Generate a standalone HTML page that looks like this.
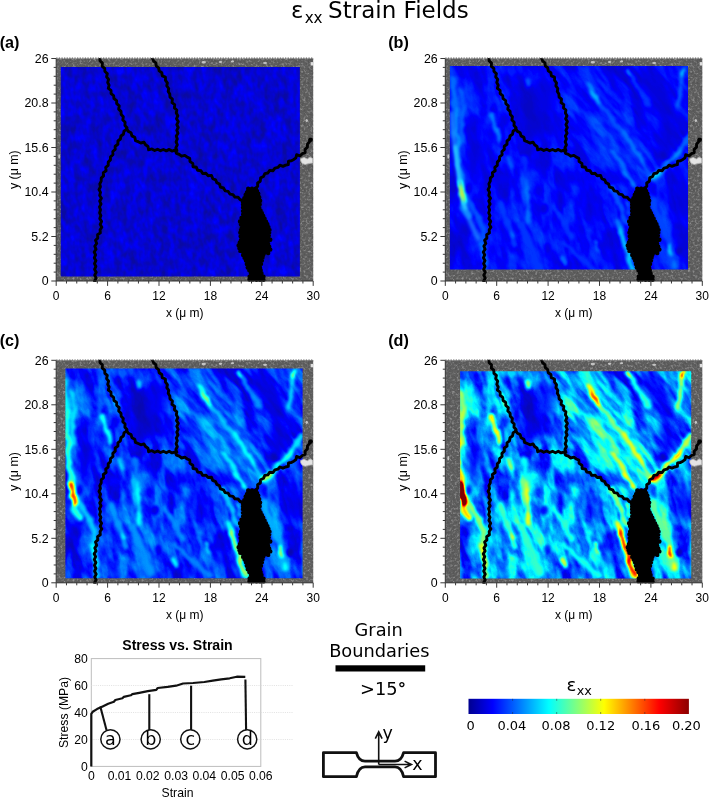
<!DOCTYPE html>
<html lang="en"><head><meta charset="utf-8"><title>Strain Fields</title>
<style>html,body{margin:0;padding:0;background:#fff}svg{display:block}.ax{font-family:"Liberation Sans",Arial,Helvetica,sans-serif;fill:#000}.dj{font-family:"DejaVu Sans","Liberation Sans",sans-serif;fill:#000}</style></head><body>
<svg width="709" height="799" viewBox="0 0 709 799">
<defs>
<filter id="sem" x="0" y="0" width="100%" height="100%" color-interpolation-filters="sRGB"><feTurbulence type="fractalNoise" baseFrequency="0.42" numOctaves="2" seed="7" result="t"/><feColorMatrix in="t" type="matrix" values="0 0 0 0 1  0 0 0 0 1  0 0 0 0 1  3 0 0 0 -1.5"/></filter>
<filter id="sem2" x="0" y="0" width="100%" height="100%" color-interpolation-filters="sRGB"><feTurbulence type="fractalNoise" baseFrequency="0.5" numOctaves="1" seed="23" result="t"/><feColorMatrix in="t" type="matrix" values="0 0 0 0 0  0 0 0 0 0  0 0 0 0 0  0 2.2 0 0 -0.95"/></filter>
<filter id="nz" x="0" y="0" width="100%" height="100%" color-interpolation-filters="sRGB"><feTurbulence type="fractalNoise" baseFrequency="0.09 0.036" numOctaves="2" seed="11" result="t"/><feColorMatrix in="t" type="matrix" values="3.6 0 0 0 -1.3  3.6 0 0 0 -1.3  3.6 0 0 0 -1.3  0 0 0 0 1"/></filter>
<filter id="nzL" x="0" y="0" width="100%" height="100%" color-interpolation-filters="sRGB"><feTurbulence type="fractalNoise" baseFrequency="0.034 0.009" numOctaves="2" seed="4" result="t"/><feColorMatrix in="t" type="matrix" values="3.2 0 0 0 -1.1  3.2 0 0 0 -1.1  3.2 0 0 0 -1.1  0 0 0 0 1"/></filter>
<filter id="nz2" x="0" y="0" width="100%" height="100%" color-interpolation-filters="sRGB"><feTurbulence type="fractalNoise" baseFrequency="0.2 0.12" numOctaves="2" seed="3" result="t"/><feColorMatrix in="t" type="matrix" values="2.2 0 0 0 -0.6  2.2 0 0 0 -0.6  2.2 0 0 0 -0.6  0 0 0 0 1"/></filter>
<filter id="bl" x="-20" y="-20" width="300" height="270" filterUnits="userSpaceOnUse" color-interpolation-filters="sRGB"><feGaussianBlur stdDeviation="1.35"/></filter>
<filter id="blw" x="-20" y="-20" width="300" height="270" filterUnits="userSpaceOnUse" color-interpolation-filters="sRGB"><feTurbulence type="fractalNoise" baseFrequency="0.09" numOctaves="2" seed="9" result="t"/><feDisplacementMap in="SourceGraphic" in2="t" scale="7" xChannelSelector="R" yChannelSelector="G" result="d"/><feGaussianBlur in="d" stdDeviation="1.35"/></filter>
<filter id="bl2" x="-20" y="-20" width="300" height="270" filterUnits="userSpaceOnUse" color-interpolation-filters="sRGB"><feGaussianBlur stdDeviation="5"/></filter>
<filter id="jeta" x="-5" y="-5" width="270" height="235" filterUnits="userSpaceOnUse" color-interpolation-filters="sRGB"><feComponentTransfer><feFuncR type="linear" slope="0.24" intercept="0.02"/><feFuncG type="linear" slope="0.24" intercept="0.02"/><feFuncB type="linear" slope="0.24" intercept="0.02"/></feComponentTransfer><feComponentTransfer><feFuncR type="table" tableValues="0.05 0 0 0 0.5 1 1 1 0.5"/><feFuncG type="table" tableValues="0.05 0 0.5 1 1 1 0.5 0 0"/><feFuncB type="table" tableValues="0.55 1 1 1 0.5 0 0 0 0"/></feComponentTransfer></filter>
<filter id="jetb" x="-5" y="-5" width="270" height="235" filterUnits="userSpaceOnUse" color-interpolation-filters="sRGB"><feComponentTransfer><feFuncR type="linear" slope="0.42" intercept="0.06"/><feFuncG type="linear" slope="0.42" intercept="0.06"/><feFuncB type="linear" slope="0.42" intercept="0.06"/></feComponentTransfer><feComponentTransfer><feFuncR type="table" tableValues="0.05 0 0 0 0.5 1 1 1 0.5"/><feFuncG type="table" tableValues="0.05 0 0.5 1 1 1 0.5 0 0"/><feFuncB type="table" tableValues="0.55 1 1 1 0.5 0 0 0 0"/></feComponentTransfer></filter>
<filter id="jetc" x="-5" y="-5" width="270" height="235" filterUnits="userSpaceOnUse" color-interpolation-filters="sRGB"><feComponentTransfer><feFuncR type="linear" slope="0.82" intercept="0.036"/><feFuncG type="linear" slope="0.82" intercept="0.036"/><feFuncB type="linear" slope="0.82" intercept="0.036"/></feComponentTransfer><feComponentTransfer><feFuncR type="table" tableValues="0.05 0 0 0 0.5 1 1 1 0.5"/><feFuncG type="table" tableValues="0.05 0 0.5 1 1 1 0.5 0 0"/><feFuncB type="table" tableValues="0.55 1 1 1 0.5 0 0 0 0"/></feComponentTransfer></filter>
<filter id="jetd" x="-5" y="-5" width="270" height="235" filterUnits="userSpaceOnUse" color-interpolation-filters="sRGB"><feComponentTransfer><feFuncR type="linear" slope="1.36" intercept="0.04"/><feFuncG type="linear" slope="1.36" intercept="0.04"/><feFuncB type="linear" slope="1.36" intercept="0.04"/></feComponentTransfer><feComponentTransfer><feFuncR type="table" tableValues="0.05 0 0 0 0.5 1 1 1 0.5"/><feFuncG type="table" tableValues="0.05 0 0.5 1 1 1 0.5 0 0"/><feFuncB type="table" tableValues="0.55 1 1 1 0.5 0 0 0 0"/></feComponentTransfer></filter>
<filter id="wob" x="-10" y="-10" width="290" height="250" filterUnits="userSpaceOnUse"><feTurbulence type="fractalNoise" baseFrequency="0.13" numOctaves="1" seed="5" result="t"/><feDisplacementMap in="SourceGraphic" in2="t" scale="3.0" xChannelSelector="R" yChannelSelector="G"/></filter>
<clipPath id="cpa"><rect x="4.6" y="8.6" width="239.1" height="209.3"/></clipPath>
<clipPath id="cpb"><rect x="4.6" y="7.5" width="238.1" height="203.6"/></clipPath>
<clipPath id="cpc"><rect x="9.2" y="8.1" width="237.2" height="209.9"/></clipPath>
<clipPath id="cpd"><rect x="14.8" y="10.9" width="231.1" height="207.4"/></clipPath>
<clipPath id="cpp"><rect x="-0.5" y="-0.5" width="259.5" height="224"/></clipPath>
<clipPath id="cpUR"><polygon points="96,-20 104,13 110,21 113,36 121,53 121,92 123,96 132,98 137.5,108 146,114 156,118 166,130 177,137 186,141 195,128 200,128 204,120 213,115 221,108 232,106 238,100 247,97 251,90 258,80 280,80 280,-20"/></clipPath>
<clipPath id="cpNUR"><path clip-rule="evenodd" d="M-20,-20H280V250H-20Z M96,-20 L104,13 L110,21 L113,36 L121,53 L121,92 L123,96 L132,98 L137.5,108 L146,114 L156,118 L166,130 L177,137 L186,141 L195,128 L200,128 L204,120 L213,115 L221,108 L232,106 L238,100 L247,97 L251,90 L258,80 L280,80 L280,-20Z"/></clipPath>
</defs>
<rect width="709" height="799" fill="#fff"/>
<text class="dj" x="291" y="17.6" font-size="23"><tspan>ε</tspan><tspan font-size="15.2" dy="5.2" dx="1.2">xx</tspan><tspan dy="-5.2" dx="-1.8"> Strain Fields</tspan></text>
<g transform="translate(56.2,58.5)">
<rect x="0" y="0" width="257.0" height="222.5" fill="#5f5f5f"/>
<rect x="0" y="0" width="257.0" height="222.5" filter="url(#sem)" opacity="0.33"/>
<rect x="0" y="0" width="257.0" height="222.5" filter="url(#sem2)" opacity="0.15"/>
<g clip-path="url(#cpa)"><g filter="url(#jeta)"><g><rect x="-20" y="-20" width="300" height="270" fill="rgb(10,10,10)"/><g transform="skewX(4)"><rect x="-40" y="-20" width="330" height="270" filter="url(#nz)" opacity="0.2"/><rect x="-40" y="-20" width="330" height="270" filter="url(#nz2)" opacity="0.3"/></g></g></g></g>
<path d="M244.5,100.2 L248,98.9 L251,100.6 L254,98.7 L256.4,100 L256.4,104.5 L252,105 L249,106 L246,104.8 L244.6,102.6 Z" fill="#e4e4e4" stroke="#bdbdbd" stroke-width="0.8" stroke-linejoin="round"/>
<g fill="#dcdcdc" fill-opacity="0.8"><ellipse cx="147.5" cy="3.8" rx="2.2" ry="1.3"/><ellipse cx="164.3" cy="3.5" rx="1.8" ry="1.1"/><ellipse cx="176.2" cy="3" rx="1.6" ry="1"/><ellipse cx="208.8" cy="4.5" rx="2" ry="1.1"/><rect x="254.4" y="3.6" width="2.6" height="3.4" fill="#fff"/><ellipse cx="250.5" cy="62" rx="1.2" ry="1.6"/><ellipse cx="3" cy="98" rx="1" ry="2.2"/></g>
<g clip-path="url(#cpp)"><g><g fill="none" stroke="#000" stroke-width="2.9" stroke-linecap="round" stroke-linejoin="round"><path d="M43.4,-0.5 L43.9,2.4 L46.2,4.6 L46.0,7.9 L48.5,9.9 L48.7,13.0 L51.1,15.1 L50.4,18.3 L52.4,20.9 L51.5,24.0 L52.9,26.7 L52.1,29.9 L54.8,31.9 L54.9,35.1 L57.4,37.1 L57.8,40.2 L60.4,42.1 L60.5,45.2 L63.0,47.3 L62.5,50.7 L64.8,52.9 L65.0,55.9 L67.1,58.2 L66.6,61.5 L68.9,63.7 L68.7,66.9 L70.8,69.2 L70.5,70.5"/><path d="M70.5,71.0 L67.8,72.5 L67.2,75.7 L64.7,77.5 L64.2,80.5 L61.7,82.5 L61.7,85.8 L59.0,87.7 L59.0,90.9 L56.6,93.0 L56.8,96.2 L54.3,98.3 L54.2,101.4 L52.0,103.6 L52.0,106.8 L49.5,108.9 L49.9,112.2 L47.1,114.2 L47.4,117.4 L45.0,119.6 L45.0,122.6 L43.6,125.3 L44.2,128.3 L42.8,131.1 L44.3,133.9 L43.5,136.9 L45.2,139.7 L43.5,142.6 L44.8,145.6 L43.3,148.4 L44.3,151.3 L43.4,154.3 L44.7,157.1 L43.6,160.1 L45.4,162.9 L44.0,165.9 L45.6,168.7 L43.9,171.2 L44.1,174.4 L41.4,176.3 L41.6,179.6 L39.3,181.8 L40.5,185.0 L38.6,187.7 L39.8,190.7 L38.0,193.5 L39.4,196.4 L38.1,199.3 L39.7,202.2 L38.3,205.1 L39.7,208.0 L38.4,210.9 L40.0,213.8 L38.5,216.7 L39.9,219.7 L38.3,222.5 L38.9,223.0"/><path d="M70.5,70.5 L72.1,72.9 L74.9,74.3 L75.7,77.4 L78.6,78.9 L79.3,82.1 L82.0,83.2 L84.6,84.5 L87.8,83.6 L89.3,86.2 L91.8,88.0 L92.4,91.4 L95.7,90.4 L98.5,92.0 L101.4,90.7 L104.3,92.2 L107.2,91.0 L110.1,92.4 L113.0,90.9 L115.8,92.6 L119.1,91.5 L120.2,94.8 L123.0,95.9 L125.4,97.7 L128.6,96.9 L131.0,98.7 L133.5,99.8 L133.8,103.1 L136.6,104.9 L136.8,108.2 L140.2,108.8 L141.5,111.8 L144.8,112.2 L146.5,115.1 L149.7,114.8 L151.9,117.2 L155.3,116.9 L156.5,120.1 L159.4,121.3 L160.6,124.1 L163.3,125.5 L164.2,128.6 L167.3,129.5 L168.9,132.3 L172.0,132.9 L173.7,135.6 L176.8,136.1 L178.7,138.6 L181.9,138.7 L183.9,141.2 L186.0,141.5"/><path d="M96.3,-0.5 L97.2,2.3 L99.6,4.3 L100.0,7.4 L102.4,9.4 L103.0,12.4 L105.6,14.2 L106.1,17.4 L109.2,18.7 L109.3,21.9 L111.2,24.3 L110.6,27.4 L112.5,30.0 L112.0,33.0 L113.6,35.6 L113.8,38.6 L116.2,40.7 L115.8,44.1 L118.5,46.1 L118.2,49.4 L120.6,51.5 L120.1,54.6 L121.6,57.3 L120.3,60.3 L122.1,63.1 L120.6,66.1 L122.0,69.0 L120.6,71.8 L121.8,74.8 L120.1,77.6 L121.1,80.5 L119.9,83.4 L121.1,86.3 L119.7,89.2 L120.6,92.0"/><path d="M199.5,130.0 L201.5,127.7 L201.4,124.5 L204.1,122.7 L204.4,119.4 L207.3,118.0 L208.6,115.1 L211.7,114.5 L213.5,111.9 L216.9,112.2 L218.7,109.6 L221.7,108.9 L223.7,106.7 L226.7,107.9 L229.4,106.7 L232.1,106.1 L232.3,102.6 L235.2,102.2 L237.6,100.9 L239.7,99.3 L240.4,96.2 L243.8,97.3 L246.2,95.2 L248.9,94.2 L248.9,90.9 L251.2,88.7 L251.3,85.6 L253.3,83.3 L253.6,81.6"/></g><path d="M192.0,130.1 L199.6,130.3 L202.1,135.3 L203.9,142.3 L203.1,149.5 L205.7,154.8 L208.4,160.3 L211.2,165.8 L213.3,171.4 L212.6,177.0 L214.1,181.2 L211.9,185.4 L214.1,191.1 L212.0,194.6 L207.0,196.5 L205.7,202.0 L203.8,208.9 L205.3,214.7 L207.3,218.3 L207.3,221.3 L193.3,221.1 L193.4,218.1 L194.7,214.4 L191.5,209.0 L189.7,202.0 L186.9,196.6 L184.1,192.4 L182.4,186.9 L184.8,181.2 L184.1,174.2 L185.6,168.7 L183.8,163.0 L186.9,156.0 L186.8,149.0 L186.7,143.3 L189.4,136.4 L192.0,131.6Z" fill="#000" stroke="#000" stroke-width="1" stroke-linejoin="round"/><path d="M192.0,130.1h0 M195.8,130.2h0 M199.6,130.3h0 M200.9,132.8h0 M202.1,135.3h0 M203.0,138.8h0 M203.9,142.3h0 M203.5,145.9h0 M203.1,149.5h0 M204.4,152.1h0 M205.7,154.8h0 M207.0,157.5h0 M208.4,160.3h0 M209.8,163.1h0 M211.2,165.8h0 M212.3,168.6h0 M213.3,171.4h0 M213.0,174.2h0 M212.6,177.0h0 M214.1,181.2h0 M211.9,185.4h0 M213.0,188.2h0 M214.1,191.1h0 M212.0,194.6h0 M207.0,196.5h0 M206.3,199.2h0 M205.7,202.0h0 M204.8,205.4h0 M203.8,208.9h0 M204.5,211.8h0 M205.3,214.7h0 M207.3,218.3h0 M207.3,221.3h0 M203.8,221.3h0 M200.3,221.2h0 M196.8,221.1h0 M193.3,221.1h0 M193.4,218.1h0 M194.7,214.4h0 M193.1,211.7h0 M191.5,209.0h0 M190.6,205.5h0 M189.7,202.0h0 M188.3,199.3h0 M186.9,196.6h0 M184.1,192.4h0 M183.2,189.7h0 M182.4,186.9h0 M183.6,184.0h0 M184.8,181.2h0 M184.4,177.7h0 M184.1,174.2h0 M184.8,171.4h0 M185.6,168.7h0 M184.7,165.8h0 M183.8,163.0h0 M185.3,159.5h0 M186.9,156.0h0 M186.8,152.5h0 M186.8,149.0h0 M186.8,146.1h0 M186.7,143.3h0 M188.1,139.8h0 M189.4,136.4h0 M190.7,134.0h0 M192.0,131.6h0" stroke="#000" stroke-width="4.4" stroke-linecap="round" fill="none"/><circle cx="254.4" cy="81.3" r="2.3" fill="#000"/></g></g>
<g><path d="M0,222.50h-4.9 M0,213.60h-2.5 M0,204.70h-2.5 M0,195.80h-2.5 M0,186.90h-2.5 M0,178.00h-4.9 M0,169.10h-2.5 M0,160.20h-2.5 M0,151.30h-2.5 M0,142.40h-2.5 M0,133.50h-4.9 M0,124.60h-2.5 M0,115.70h-2.5 M0,106.80h-2.5 M0,97.90h-2.5 M0,89.00h-4.9 M0,80.10h-2.5 M0,71.20h-2.5 M0,62.30h-2.5 M0,53.40h-2.5 M0,44.50h-4.9 M0,35.60h-2.5 M0,26.70h-2.5 M0,17.80h-2.5 M0,8.90h-2.5 M0,0.00h-4.9 M0.00,222.5v4.9 M10.28,222.5v2.5 M20.56,222.5v2.5 M30.84,222.5v2.5 M41.12,222.5v2.5 M51.40,222.5v4.9 M61.68,222.5v2.5 M71.96,222.5v2.5 M82.24,222.5v2.5 M92.52,222.5v2.5 M102.80,222.5v4.9 M113.08,222.5v2.5 M123.36,222.5v2.5 M133.64,222.5v2.5 M143.92,222.5v2.5 M154.20,222.5v4.9 M164.48,222.5v2.5 M174.76,222.5v2.5 M185.04,222.5v2.5 M195.32,222.5v2.5 M205.60,222.5v4.9 M215.88,222.5v2.5 M226.16,222.5v2.5 M236.44,222.5v2.5 M246.72,222.5v2.5 M257.00,222.5v4.9" stroke="#222" stroke-width="0.9" fill="none"/><path d="M0,0V222.5H257.0" stroke="#333" stroke-width="1" fill="none"/><path d="M0,-0.3H257.0" stroke="#666" stroke-width="1.2" stroke-dasharray="1.3 1.3" fill="none"/></g>
<text class="ax" x="-7.6" y="4.3" font-size="12.4" text-anchor="end">26</text>
<text class="ax" x="-7.6" y="48.8" font-size="12.4" text-anchor="end">20.8</text>
<text class="ax" x="-7.6" y="93.3" font-size="12.4" text-anchor="end">15.6</text>
<text class="ax" x="-7.6" y="137.8" font-size="12.4" text-anchor="end">10.4</text>
<text class="ax" x="-7.6" y="182.3" font-size="12.4" text-anchor="end">5.2</text>
<text class="ax" x="-7.6" y="226.8" font-size="12.4" text-anchor="end">0</text>
<text class="ax" x="0.0" y="241.8" font-size="12" text-anchor="middle">0</text>
<text class="ax" x="51.4" y="241.8" font-size="12" text-anchor="middle">6</text>
<text class="ax" x="102.8" y="241.8" font-size="12" text-anchor="middle">12</text>
<text class="ax" x="154.2" y="241.8" font-size="12" text-anchor="middle">18</text>
<text class="ax" x="205.6" y="241.8" font-size="12" text-anchor="middle">24</text>
<text class="ax" x="257.0" y="241.8" font-size="12" text-anchor="middle">30</text>
<text class="ax" x="128.5" y="258.6" font-size="12" text-anchor="middle">x (μ m)</text>
<text class="ax" transform="translate(-38.6,111.2) rotate(-90)" font-size="12.4" text-anchor="middle">y (μ m)</text>
</g>
<text class="ax" x="-0.3" y="48.2" font-size="16.2" font-weight="bold">(a)</text>
<g transform="translate(445.3,58.5)">
<rect x="0" y="0" width="257.0" height="222.5" fill="#5f5f5f"/>
<rect x="0" y="0" width="257.0" height="222.5" filter="url(#sem)" opacity="0.33"/>
<rect x="0" y="0" width="257.0" height="222.5" filter="url(#sem2)" opacity="0.15"/>
<g clip-path="url(#cpb)"><g filter="url(#jetb)"><g><rect x="-20" y="-20" width="300" height="270" fill="rgb(10,10,10)"/><g filter="url(#bl2)"><ellipse cx="26" cy="110" rx="12" ry="105" fill="rgb(17,17,17)" fill-opacity="1.0" transform="rotate(0 26 110)"/><ellipse cx="85" cy="165" rx="30" ry="55" fill="rgb(25,25,25)" fill-opacity="1.0" transform="rotate(-10 85 165)"/><ellipse cx="168" cy="68" rx="24" ry="68" fill="rgb(34,34,34)" fill-opacity="1.0" transform="rotate(-33 168 68)"/><ellipse cx="238" cy="40" rx="8" ry="35" fill="rgb(28,28,28)" fill-opacity="1.0" transform="rotate(0 238 40)"/><ellipse cx="176" cy="170" rx="9" ry="45" fill="rgb(34,34,34)" fill-opacity="1.0" transform="rotate(-15 176 170)"/><ellipse cx="220" cy="175" rx="8" ry="40" fill="rgb(32,32,32)" fill-opacity="1.0" transform="rotate(-15 220 175)"/><ellipse cx="244" cy="190" rx="4" ry="28" fill="rgb(28,28,28)" fill-opacity="1.0" transform="rotate(0 244 190)"/><ellipse cx="226" cy="100" rx="7" ry="32" fill="rgb(34,34,34)" fill-opacity="1.0" transform="rotate(42 226 100)"/><ellipse cx="50" cy="50" rx="12" ry="35" fill="rgb(23,23,23)" fill-opacity="1.0" transform="rotate(-20 50 50)"/><ellipse cx="133" cy="55" rx="10" ry="40" fill="rgb(25,25,25)" fill-opacity="1.0" transform="rotate(-10 133 55)"/><ellipse cx="125" cy="180" rx="18" ry="40" fill="rgb(18,18,18)" fill-opacity="1.0" transform="rotate(-30 125 180)"/></g><g clip-path="url(#cpUR)"><g transform="skewX(31)"><rect x="-160" y="-20" width="440" height="270" filter="url(#nzL)" opacity="0.09"/></g><g transform="skewX(31)"><rect x="-160" y="-20" width="440" height="270" filter="url(#nz)" opacity="0.15"/></g><g transform="skewX(31)"><rect x="-160" y="-20" width="440" height="270" filter="url(#nz2)" opacity="0.05"/></g></g><g clip-path="url(#cpNUR)"><g transform="skewX(13)"><rect x="-160" y="-20" width="440" height="270" filter="url(#nzL)" opacity="0.09"/></g><g transform="skewX(13)"><rect x="-160" y="-20" width="440" height="270" filter="url(#nz)" opacity="0.15"/></g><g transform="skewX(13)"><rect x="-160" y="-20" width="440" height="270" filter="url(#nz2)" opacity="0.05"/></g></g><g filter="url(#bl2)"><ellipse cx="92" cy="52" rx="17" ry="32" fill="#000" fill-opacity="0.62" transform="rotate(22 92 52)"/><ellipse cx="212" cy="35" rx="9" ry="28" fill="#000" fill-opacity="0.75" transform="rotate(-35 212 35)"/><ellipse cx="222" cy="80" rx="8" ry="22" fill="#000" fill-opacity="0.7" transform="rotate(0 222 80)"/><ellipse cx="238" cy="140" rx="7" ry="22" fill="#000" fill-opacity="0.7" transform="rotate(0 238 140)"/><ellipse cx="30" cy="95" rx="7" ry="34" fill="#000" fill-opacity="0.6" transform="rotate(0 30 95)"/><ellipse cx="20" cy="178" rx="6" ry="25" fill="#000" fill-opacity="0.4" transform="rotate(0 20 178)"/><ellipse cx="145" cy="145" rx="6" ry="18" fill="#000" fill-opacity="0.5" transform="rotate(-15 145 145)"/><ellipse cx="164" cy="195" rx="4" ry="14" fill="#000" fill-opacity="0.6" transform="rotate(-10 164 195)"/></g><g filter="url(#bl)"><ellipse cx="99" cy="150" rx="4" ry="5" fill="#000" fill-opacity="0.7" transform="rotate(0 99 150)"/><ellipse cx="60" cy="135" rx="4" ry="5" fill="#000" fill-opacity="0.6" transform="rotate(0 60 135)"/><ellipse cx="102" cy="189" rx="4" ry="5" fill="#000" fill-opacity="0.6" transform="rotate(0 102 189)"/><ellipse cx="234" cy="192" rx="3.5" ry="4.5" fill="#000" fill-opacity="0.95" transform="rotate(20 234 192)"/><ellipse cx="217.5" cy="97" rx="4" ry="4.5" fill="#000" fill-opacity="0.85" transform="rotate(0 217.5 97)"/><ellipse cx="23.5" cy="130" rx="3" ry="5" fill="#000" fill-opacity="0.6" transform="rotate(0 23.5 130)"/></g><g filter="url(#blw)"><path d="M8.0,20.0 L10.0,60.0 L12.5,100.0 L15.0,124.0" stroke="rgb(106,106,106)" stroke-width="6" stroke-opacity="1.0" fill="none" stroke-linecap="round" stroke-linejoin="round"/><path d="M11.5,50.0 L12.5,85.0 L14.5,118.0" stroke="rgb(131,131,131)" stroke-width="3.5" stroke-opacity="1.0" fill="none" stroke-linecap="round" stroke-linejoin="round"/><path d="M16.5,30.0 L17.0,82.0" stroke="rgb(100,100,100)" stroke-width="4" stroke-opacity="1.0" fill="none" stroke-linecap="round" stroke-linejoin="round"/><path d="M14.5,116.0 L16.3,134.0 L19.0,148.0 L23.0,156.0" stroke="rgb(120,120,120)" stroke-width="7" stroke-opacity="1.0" fill="none" stroke-linecap="round" stroke-linejoin="round"/><path d="M45.5,56.5 L54.7,80.4" stroke="rgb(120,120,120)" stroke-width="4.5" stroke-opacity="1.0" fill="none" stroke-linecap="round" stroke-linejoin="round"/><path d="M54.7,30.9 L60.2,43.7" stroke="rgb(91,91,91)" stroke-width="4" stroke-opacity="1.0" fill="none" stroke-linecap="round" stroke-linejoin="round"/><path d="M82.5,22.0 L83.5,25.0" stroke="rgb(100,100,100)" stroke-width="4" stroke-opacity="1.0" fill="none" stroke-linecap="round" stroke-linejoin="round"/><path d="M62.0,98.0 L66.0,108.0" stroke="rgb(100,100,100)" stroke-width="4" stroke-opacity="1.0" fill="none" stroke-linecap="round" stroke-linejoin="round"/><path d="M21.7,139.2 L29.0,150.2 L36.4,166.7 L39.1,185.0 L39.1,207.0 L40.0,218.0" stroke="rgb(91,91,91)" stroke-width="5" stroke-opacity="1.0" fill="none" stroke-linecap="round" stroke-linejoin="round"/><path d="M37.3,185.0 L38.8,207.0" stroke="rgb(120,120,120)" stroke-width="3" stroke-opacity="1.0" fill="none" stroke-linecap="round" stroke-linejoin="round"/><path d="M78.5,121.0 L82.0,142.0 L84.0,163.0" stroke="rgb(87,87,87)" stroke-width="6" stroke-opacity="1.0" fill="none" stroke-linecap="round" stroke-linejoin="round"/><path d="M81.0,124.0 L83.3,142.0" stroke="rgb(113,113,113)" stroke-width="3.5" stroke-opacity="1.0" fill="none" stroke-linecap="round" stroke-linejoin="round"/><path d="M82.3,152.0 L83.8,164.0" stroke="rgb(113,113,113)" stroke-width="3.5" stroke-opacity="1.0" fill="none" stroke-linecap="round" stroke-linejoin="round"/><path d="M55.0,145.0 L70.0,185.0" stroke="rgb(76,76,76)" stroke-width="6" stroke-opacity="1.0" fill="none" stroke-linecap="round" stroke-linejoin="round"/><path d="M67.0,174.0 L68.0,178.0" stroke="rgb(109,109,109)" stroke-width="4" stroke-opacity="1.0" fill="none" stroke-linecap="round" stroke-linejoin="round"/><path d="M76.7,166.7 L95.0,212.5" stroke="rgb(73,73,73)" stroke-width="8" stroke-opacity="1.0" fill="none" stroke-linecap="round" stroke-linejoin="round"/><path d="M118.5,199.0 L119.5,205.0" stroke="rgb(109,109,109)" stroke-width="4" stroke-opacity="1.0" fill="none" stroke-linecap="round" stroke-linejoin="round"/><path d="M108.0,147.0 L127.0,177.5" stroke="rgb(73,73,73)" stroke-width="5" stroke-opacity="1.0" fill="none" stroke-linecap="round" stroke-linejoin="round"/><path d="M119.4,185.0 L153.6,215.6" stroke="rgb(69,69,69)" stroke-width="6" stroke-opacity="1.0" fill="none" stroke-linecap="round" stroke-linejoin="round"/><path d="M77.5,97.5 L84.0,125.0" stroke="rgb(66,66,66)" stroke-width="5" stroke-opacity="1.0" fill="none" stroke-linecap="round" stroke-linejoin="round"/><path d="M142.0,25.7 L154.6,46.7" stroke="rgb(118,118,118)" stroke-width="5" stroke-opacity="1.0" fill="none" stroke-linecap="round" stroke-linejoin="round"/><path d="M146.0,33.0 L153.6,44.0" stroke="rgb(155,155,155)" stroke-width="2.5" stroke-opacity="1.0" fill="none" stroke-linecap="round" stroke-linejoin="round"/><path d="M154.6,46.7 L177.7,74.0 L198.8,105.6 L207.2,122.4" stroke="rgb(91,91,91)" stroke-width="5" stroke-opacity="1.0" fill="none" stroke-linecap="round" stroke-linejoin="round"/><path d="M178.0,72.0 L199.0,104.0" stroke="rgb(113,113,113)" stroke-width="3.5" stroke-opacity="1.0" fill="none" stroke-linecap="round" stroke-linejoin="round"/><path d="M167.2,93.0 L182.0,114.0" stroke="rgb(109,109,109)" stroke-width="4" stroke-opacity="1.0" fill="none" stroke-linecap="round" stroke-linejoin="round"/><path d="M179.0,115.0 L190.0,128.0" stroke="rgb(120,120,120)" stroke-width="4" stroke-opacity="1.0" fill="none" stroke-linecap="round" stroke-linejoin="round"/><path d="M182.0,13.0 L187.2,19.4" stroke="rgb(127,127,127)" stroke-width="3.5" stroke-opacity="1.0" fill="none" stroke-linecap="round" stroke-linejoin="round"/><path d="M187.0,19.0 L203.0,47.0" stroke="rgb(73,73,73)" stroke-width="5" stroke-opacity="1.0" fill="none" stroke-linecap="round" stroke-linejoin="round"/><path d="M237.6,13.1 L236.6,25.7 L232.4,46.7" stroke="rgb(100,100,100)" stroke-width="4.5" stroke-opacity="1.0" fill="none" stroke-linecap="round" stroke-linejoin="round"/><path d="M238.5,10.0 L237.5,17.0" stroke="rgb(168,168,168)" stroke-width="3" stroke-opacity="1.0" fill="none" stroke-linecap="round" stroke-linejoin="round"/><path d="M245.0,76.2 L232.4,95.0 L209.3,120.3" stroke="rgb(100,100,100)" stroke-width="5" stroke-opacity="1.0" fill="none" stroke-linecap="round" stroke-linejoin="round"/><path d="M235.0,92.0 L222.0,106.0" stroke="rgb(131,131,131)" stroke-width="3" stroke-opacity="1.0" fill="none" stroke-linecap="round" stroke-linejoin="round"/><path d="M214.0,114.5 L207.0,121.5" stroke="rgb(173,173,173)" stroke-width="3.5" stroke-opacity="1.0" fill="none" stroke-linecap="round" stroke-linejoin="round"/><path d="M166.4,130.0 L181.0,163.0" stroke="rgb(91,91,91)" stroke-width="6" stroke-opacity="1.0" fill="none" stroke-linecap="round" stroke-linejoin="round"/><path d="M182.9,142.9 L184.7,153.9" stroke="rgb(113,113,113)" stroke-width="3" stroke-opacity="1.0" fill="none" stroke-linecap="round" stroke-linejoin="round"/><path d="M173.7,164.9 L175.5,170.4 L180.1,188.7 L184.7,203.4 L190.2,216.2" stroke="rgb(113,113,113)" stroke-width="6" stroke-opacity="1.0" fill="none" stroke-linecap="round" stroke-linejoin="round"/><path d="M175.5,170.4 L180.1,188.7 L184.7,203.4 L189.5,214.5" stroke="rgb(173,173,173)" stroke-width="2.8" stroke-opacity="1.0" fill="none" stroke-linecap="round" stroke-linejoin="round"/><path d="M208.5,144.7 L225.0,188.7 L228.7,207.0" stroke="rgb(82,82,82)" stroke-width="6" stroke-opacity="1.0" fill="none" stroke-linecap="round" stroke-linejoin="round"/><path d="M224.5,188.0 L225.5,197.0" stroke="rgb(173,173,173)" stroke-width="3.5" stroke-opacity="1.0" fill="none" stroke-linecap="round" stroke-linejoin="round"/><path d="M228.5,205.0 L229.0,209.0" stroke="rgb(113,113,113)" stroke-width="3.5" stroke-opacity="1.0" fill="none" stroke-linecap="round" stroke-linejoin="round"/><path d="M149.9,184.0 L151.0,193.0" stroke="rgb(100,100,100)" stroke-width="3" stroke-opacity="1.0" fill="none" stroke-linecap="round" stroke-linejoin="round"/><path d="M14.6,124.0 L16.3,134.0 L18.0,144.0" stroke="rgb(255,255,255)" stroke-width="5.2" stroke-opacity="1.0" fill="none" stroke-linecap="round" stroke-linejoin="round"/><path d="M15.4,128.0 L16.3,134.0 L17.2,140.0" stroke="rgb(255,255,255)" stroke-width="4" stroke-opacity="1.0" fill="none" stroke-linecap="round" stroke-linejoin="round"/></g></g></g><g filter="url(#bl)" fill="none" stroke-linecap="round" stroke-linejoin="round"><path d="M6.5,55 L9,85 L12.5,110 L15.4,128 L17.6,142 L22,156 L28,170 L33,180" stroke="#1e8cff" stroke-opacity="0.75" stroke-width="4.5"/><path d="M10,88 L12.5,110 L15.4,128 L17.6,142 L20,150" stroke="#30e0ff" stroke-opacity="0.8" stroke-width="3.2"/><path d="M15.2,128 L16.4,134.5 L17.8,141" stroke="#9dff5a" stroke-width="3.4"/><path d="M16,131.5 L17,137.5" stroke="#f2f214" stroke-width="2.4"/></g></g>
<path d="M244.5,100.2 L248,98.9 L251,100.6 L254,98.7 L256.4,100 L256.4,104.5 L252,105 L249,106 L246,104.8 L244.6,102.6 Z" fill="#e4e4e4" stroke="#bdbdbd" stroke-width="0.8" stroke-linejoin="round"/>
<g fill="#dcdcdc" fill-opacity="0.8"><ellipse cx="147.5" cy="3.8" rx="2.2" ry="1.3"/><ellipse cx="164.3" cy="3.5" rx="1.8" ry="1.1"/><ellipse cx="176.2" cy="3" rx="1.6" ry="1"/><ellipse cx="208.8" cy="4.5" rx="2" ry="1.1"/><rect x="254.4" y="3.6" width="2.6" height="3.4" fill="#fff"/><ellipse cx="250.5" cy="62" rx="1.2" ry="1.6"/><ellipse cx="3" cy="98" rx="1" ry="2.2"/></g>
<g clip-path="url(#cpp)"><g><g fill="none" stroke="#000" stroke-width="2.9" stroke-linecap="round" stroke-linejoin="round"><path d="M43.4,-0.5 L43.9,2.4 L46.2,4.6 L46.0,7.9 L48.5,9.9 L48.7,13.0 L51.1,15.1 L50.4,18.3 L52.4,20.9 L51.5,24.0 L52.9,26.7 L52.1,29.9 L54.8,31.9 L54.9,35.1 L57.4,37.1 L57.8,40.2 L60.4,42.1 L60.5,45.2 L63.0,47.3 L62.5,50.7 L64.8,52.9 L65.0,55.9 L67.1,58.2 L66.6,61.5 L68.9,63.7 L68.7,66.9 L70.8,69.2 L70.5,70.5"/><path d="M70.5,71.0 L67.8,72.5 L67.2,75.7 L64.7,77.5 L64.2,80.5 L61.7,82.5 L61.7,85.8 L59.0,87.7 L59.0,90.9 L56.6,93.0 L56.8,96.2 L54.3,98.3 L54.2,101.4 L52.0,103.6 L52.0,106.8 L49.5,108.9 L49.9,112.2 L47.1,114.2 L47.4,117.4 L45.0,119.6 L45.0,122.6 L43.6,125.3 L44.2,128.3 L42.8,131.1 L44.3,133.9 L43.5,136.9 L45.2,139.7 L43.5,142.6 L44.8,145.6 L43.3,148.4 L44.3,151.3 L43.4,154.3 L44.7,157.1 L43.6,160.1 L45.4,162.9 L44.0,165.9 L45.6,168.7 L43.9,171.2 L44.1,174.4 L41.4,176.3 L41.6,179.6 L39.3,181.8 L40.5,185.0 L38.6,187.7 L39.8,190.7 L38.0,193.5 L39.4,196.4 L38.1,199.3 L39.7,202.2 L38.3,205.1 L39.7,208.0 L38.4,210.9 L40.0,213.8 L38.5,216.7 L39.9,219.7 L38.3,222.5 L38.9,223.0"/><path d="M70.5,70.5 L72.1,72.9 L74.9,74.3 L75.7,77.4 L78.6,78.9 L79.3,82.1 L82.0,83.2 L84.6,84.5 L87.8,83.6 L89.3,86.2 L91.8,88.0 L92.4,91.4 L95.7,90.4 L98.5,92.0 L101.4,90.7 L104.3,92.2 L107.2,91.0 L110.1,92.4 L113.0,90.9 L115.8,92.6 L119.1,91.5 L120.2,94.8 L123.0,95.9 L125.4,97.7 L128.6,96.9 L131.0,98.7 L133.5,99.8 L133.8,103.1 L136.6,104.9 L136.8,108.2 L140.2,108.8 L141.5,111.8 L144.8,112.2 L146.5,115.1 L149.7,114.8 L151.9,117.2 L155.3,116.9 L156.5,120.1 L159.4,121.3 L160.6,124.1 L163.3,125.5 L164.2,128.6 L167.3,129.5 L168.9,132.3 L172.0,132.9 L173.7,135.6 L176.8,136.1 L178.7,138.6 L181.9,138.7 L183.9,141.2 L186.0,141.5"/><path d="M96.3,-0.5 L97.2,2.3 L99.6,4.3 L100.0,7.4 L102.4,9.4 L103.0,12.4 L105.6,14.2 L106.1,17.4 L109.2,18.7 L109.3,21.9 L111.2,24.3 L110.6,27.4 L112.5,30.0 L112.0,33.0 L113.6,35.6 L113.8,38.6 L116.2,40.7 L115.8,44.1 L118.5,46.1 L118.2,49.4 L120.6,51.5 L120.1,54.6 L121.6,57.3 L120.3,60.3 L122.1,63.1 L120.6,66.1 L122.0,69.0 L120.6,71.8 L121.8,74.8 L120.1,77.6 L121.1,80.5 L119.9,83.4 L121.1,86.3 L119.7,89.2 L120.6,92.0"/><path d="M199.5,130.0 L201.5,127.7 L201.4,124.5 L204.1,122.7 L204.4,119.4 L207.3,118.0 L208.6,115.1 L211.7,114.5 L213.5,111.9 L216.9,112.2 L218.7,109.6 L221.7,108.9 L223.7,106.7 L226.7,107.9 L229.4,106.7 L232.1,106.1 L232.3,102.6 L235.2,102.2 L237.6,100.9 L239.7,99.3 L240.4,96.2 L243.8,97.3 L246.2,95.2 L248.9,94.2 L248.9,90.9 L251.2,88.7 L251.3,85.6 L253.3,83.3 L253.6,81.6"/></g><path d="M192.0,130.1 L199.6,130.3 L202.1,135.3 L203.9,142.3 L203.1,149.5 L205.7,154.8 L208.4,160.3 L211.2,165.8 L213.3,171.4 L212.6,177.0 L214.1,181.2 L211.9,185.4 L214.1,191.1 L212.0,194.6 L207.0,196.5 L205.7,202.0 L203.8,208.9 L205.3,214.7 L207.3,218.3 L207.3,221.3 L193.3,221.1 L193.4,218.1 L194.7,214.4 L191.5,209.0 L189.7,202.0 L186.9,196.6 L184.1,192.4 L182.4,186.9 L184.8,181.2 L184.1,174.2 L185.6,168.7 L183.8,163.0 L186.9,156.0 L186.8,149.0 L186.7,143.3 L189.4,136.4 L192.0,131.6Z" fill="#000" stroke="#000" stroke-width="1" stroke-linejoin="round"/><path d="M192.0,130.1h0 M195.8,130.2h0 M199.6,130.3h0 M200.9,132.8h0 M202.1,135.3h0 M203.0,138.8h0 M203.9,142.3h0 M203.5,145.9h0 M203.1,149.5h0 M204.4,152.1h0 M205.7,154.8h0 M207.0,157.5h0 M208.4,160.3h0 M209.8,163.1h0 M211.2,165.8h0 M212.3,168.6h0 M213.3,171.4h0 M213.0,174.2h0 M212.6,177.0h0 M214.1,181.2h0 M211.9,185.4h0 M213.0,188.2h0 M214.1,191.1h0 M212.0,194.6h0 M207.0,196.5h0 M206.3,199.2h0 M205.7,202.0h0 M204.8,205.4h0 M203.8,208.9h0 M204.5,211.8h0 M205.3,214.7h0 M207.3,218.3h0 M207.3,221.3h0 M203.8,221.3h0 M200.3,221.2h0 M196.8,221.1h0 M193.3,221.1h0 M193.4,218.1h0 M194.7,214.4h0 M193.1,211.7h0 M191.5,209.0h0 M190.6,205.5h0 M189.7,202.0h0 M188.3,199.3h0 M186.9,196.6h0 M184.1,192.4h0 M183.2,189.7h0 M182.4,186.9h0 M183.6,184.0h0 M184.8,181.2h0 M184.4,177.7h0 M184.1,174.2h0 M184.8,171.4h0 M185.6,168.7h0 M184.7,165.8h0 M183.8,163.0h0 M185.3,159.5h0 M186.9,156.0h0 M186.8,152.5h0 M186.8,149.0h0 M186.8,146.1h0 M186.7,143.3h0 M188.1,139.8h0 M189.4,136.4h0 M190.7,134.0h0 M192.0,131.6h0" stroke="#000" stroke-width="4.4" stroke-linecap="round" fill="none"/><circle cx="254.4" cy="81.3" r="2.3" fill="#000"/></g></g>
<g><path d="M0,222.50h-4.9 M0,213.60h-2.5 M0,204.70h-2.5 M0,195.80h-2.5 M0,186.90h-2.5 M0,178.00h-4.9 M0,169.10h-2.5 M0,160.20h-2.5 M0,151.30h-2.5 M0,142.40h-2.5 M0,133.50h-4.9 M0,124.60h-2.5 M0,115.70h-2.5 M0,106.80h-2.5 M0,97.90h-2.5 M0,89.00h-4.9 M0,80.10h-2.5 M0,71.20h-2.5 M0,62.30h-2.5 M0,53.40h-2.5 M0,44.50h-4.9 M0,35.60h-2.5 M0,26.70h-2.5 M0,17.80h-2.5 M0,8.90h-2.5 M0,0.00h-4.9 M0.00,222.5v4.9 M10.28,222.5v2.5 M20.56,222.5v2.5 M30.84,222.5v2.5 M41.12,222.5v2.5 M51.40,222.5v4.9 M61.68,222.5v2.5 M71.96,222.5v2.5 M82.24,222.5v2.5 M92.52,222.5v2.5 M102.80,222.5v4.9 M113.08,222.5v2.5 M123.36,222.5v2.5 M133.64,222.5v2.5 M143.92,222.5v2.5 M154.20,222.5v4.9 M164.48,222.5v2.5 M174.76,222.5v2.5 M185.04,222.5v2.5 M195.32,222.5v2.5 M205.60,222.5v4.9 M215.88,222.5v2.5 M226.16,222.5v2.5 M236.44,222.5v2.5 M246.72,222.5v2.5 M257.00,222.5v4.9" stroke="#222" stroke-width="0.9" fill="none"/><path d="M0,0V222.5H257.0" stroke="#333" stroke-width="1" fill="none"/><path d="M0,-0.3H257.0" stroke="#666" stroke-width="1.2" stroke-dasharray="1.3 1.3" fill="none"/></g>
<text class="ax" x="-7.6" y="4.3" font-size="12.4" text-anchor="end">26</text>
<text class="ax" x="-7.6" y="48.8" font-size="12.4" text-anchor="end">20.8</text>
<text class="ax" x="-7.6" y="93.3" font-size="12.4" text-anchor="end">15.6</text>
<text class="ax" x="-7.6" y="137.8" font-size="12.4" text-anchor="end">10.4</text>
<text class="ax" x="-7.6" y="182.3" font-size="12.4" text-anchor="end">5.2</text>
<text class="ax" x="-7.6" y="226.8" font-size="12.4" text-anchor="end">0</text>
<text class="ax" x="0.0" y="241.8" font-size="12" text-anchor="middle">0</text>
<text class="ax" x="51.4" y="241.8" font-size="12" text-anchor="middle">6</text>
<text class="ax" x="102.8" y="241.8" font-size="12" text-anchor="middle">12</text>
<text class="ax" x="154.2" y="241.8" font-size="12" text-anchor="middle">18</text>
<text class="ax" x="205.6" y="241.8" font-size="12" text-anchor="middle">24</text>
<text class="ax" x="257.0" y="241.8" font-size="12" text-anchor="middle">30</text>
<text class="ax" x="128.5" y="258.6" font-size="12" text-anchor="middle">x (μ m)</text>
<text class="ax" transform="translate(-38.6,111.2) rotate(-90)" font-size="12.4" text-anchor="middle">y (μ m)</text>
</g>
<text class="ax" x="388.2" y="48.2" font-size="16.2" font-weight="bold">(b)</text>
<g transform="translate(56.2,360.3)">
<rect x="0" y="0" width="257.0" height="222.5" fill="#5f5f5f"/>
<rect x="0" y="0" width="257.0" height="222.5" filter="url(#sem)" opacity="0.33"/>
<rect x="0" y="0" width="257.0" height="222.5" filter="url(#sem2)" opacity="0.15"/>
<g clip-path="url(#cpc)"><g filter="url(#jetc)"><g><rect x="-20" y="-20" width="300" height="270" fill="rgb(10,10,10)"/><g filter="url(#bl2)"><ellipse cx="26" cy="110" rx="12" ry="105" fill="rgb(17,17,17)" fill-opacity="1.0" transform="rotate(0 26 110)"/><ellipse cx="85" cy="165" rx="30" ry="55" fill="rgb(25,25,25)" fill-opacity="1.0" transform="rotate(-10 85 165)"/><ellipse cx="168" cy="68" rx="24" ry="68" fill="rgb(34,34,34)" fill-opacity="1.0" transform="rotate(-33 168 68)"/><ellipse cx="238" cy="40" rx="8" ry="35" fill="rgb(28,28,28)" fill-opacity="1.0" transform="rotate(0 238 40)"/><ellipse cx="176" cy="170" rx="9" ry="45" fill="rgb(34,34,34)" fill-opacity="1.0" transform="rotate(-15 176 170)"/><ellipse cx="220" cy="175" rx="8" ry="40" fill="rgb(32,32,32)" fill-opacity="1.0" transform="rotate(-15 220 175)"/><ellipse cx="244" cy="190" rx="4" ry="28" fill="rgb(28,28,28)" fill-opacity="1.0" transform="rotate(0 244 190)"/><ellipse cx="226" cy="100" rx="7" ry="32" fill="rgb(34,34,34)" fill-opacity="1.0" transform="rotate(42 226 100)"/><ellipse cx="50" cy="50" rx="12" ry="35" fill="rgb(23,23,23)" fill-opacity="1.0" transform="rotate(-20 50 50)"/><ellipse cx="133" cy="55" rx="10" ry="40" fill="rgb(25,25,25)" fill-opacity="1.0" transform="rotate(-10 133 55)"/><ellipse cx="125" cy="180" rx="18" ry="40" fill="rgb(18,18,18)" fill-opacity="1.0" transform="rotate(-30 125 180)"/></g><g clip-path="url(#cpUR)"><g transform="skewX(31)"><rect x="-160" y="-20" width="440" height="270" filter="url(#nzL)" opacity="0.09"/></g><g transform="skewX(31)"><rect x="-160" y="-20" width="440" height="270" filter="url(#nz)" opacity="0.15"/></g><g transform="skewX(31)"><rect x="-160" y="-20" width="440" height="270" filter="url(#nz2)" opacity="0.05"/></g></g><g clip-path="url(#cpNUR)"><g transform="skewX(13)"><rect x="-160" y="-20" width="440" height="270" filter="url(#nzL)" opacity="0.09"/></g><g transform="skewX(13)"><rect x="-160" y="-20" width="440" height="270" filter="url(#nz)" opacity="0.15"/></g><g transform="skewX(13)"><rect x="-160" y="-20" width="440" height="270" filter="url(#nz2)" opacity="0.05"/></g></g><g filter="url(#bl2)"><ellipse cx="92" cy="52" rx="17" ry="32" fill="#000" fill-opacity="0.62" transform="rotate(22 92 52)"/><ellipse cx="212" cy="35" rx="9" ry="28" fill="#000" fill-opacity="0.75" transform="rotate(-35 212 35)"/><ellipse cx="222" cy="80" rx="8" ry="22" fill="#000" fill-opacity="0.7" transform="rotate(0 222 80)"/><ellipse cx="238" cy="140" rx="7" ry="22" fill="#000" fill-opacity="0.7" transform="rotate(0 238 140)"/><ellipse cx="30" cy="95" rx="7" ry="34" fill="#000" fill-opacity="0.6" transform="rotate(0 30 95)"/><ellipse cx="20" cy="178" rx="6" ry="25" fill="#000" fill-opacity="0.4" transform="rotate(0 20 178)"/><ellipse cx="145" cy="145" rx="6" ry="18" fill="#000" fill-opacity="0.5" transform="rotate(-15 145 145)"/><ellipse cx="164" cy="195" rx="4" ry="14" fill="#000" fill-opacity="0.6" transform="rotate(-10 164 195)"/></g><g filter="url(#bl)"><ellipse cx="99" cy="150" rx="4" ry="5" fill="#000" fill-opacity="0.7" transform="rotate(0 99 150)"/><ellipse cx="60" cy="135" rx="4" ry="5" fill="#000" fill-opacity="0.6" transform="rotate(0 60 135)"/><ellipse cx="102" cy="189" rx="4" ry="5" fill="#000" fill-opacity="0.6" transform="rotate(0 102 189)"/><ellipse cx="234" cy="192" rx="3.5" ry="4.5" fill="#000" fill-opacity="0.95" transform="rotate(20 234 192)"/><ellipse cx="217.5" cy="97" rx="4" ry="4.5" fill="#000" fill-opacity="0.85" transform="rotate(0 217.5 97)"/><ellipse cx="23.5" cy="130" rx="3" ry="5" fill="#000" fill-opacity="0.6" transform="rotate(0 23.5 130)"/></g><g filter="url(#blw)"><path d="M8.0,20.0 L10.0,60.0 L12.5,100.0 L15.0,124.0" stroke="rgb(106,106,106)" stroke-width="6" stroke-opacity="1.0" fill="none" stroke-linecap="round" stroke-linejoin="round"/><path d="M11.5,50.0 L12.5,85.0 L14.5,118.0" stroke="rgb(131,131,131)" stroke-width="3.5" stroke-opacity="1.0" fill="none" stroke-linecap="round" stroke-linejoin="round"/><path d="M16.5,30.0 L17.0,82.0" stroke="rgb(100,100,100)" stroke-width="4" stroke-opacity="1.0" fill="none" stroke-linecap="round" stroke-linejoin="round"/><path d="M14.5,116.0 L16.3,134.0 L19.0,148.0 L23.0,156.0" stroke="rgb(120,120,120)" stroke-width="7" stroke-opacity="1.0" fill="none" stroke-linecap="round" stroke-linejoin="round"/><path d="M45.5,56.5 L54.7,80.4" stroke="rgb(120,120,120)" stroke-width="4.5" stroke-opacity="1.0" fill="none" stroke-linecap="round" stroke-linejoin="round"/><path d="M54.7,30.9 L60.2,43.7" stroke="rgb(91,91,91)" stroke-width="4" stroke-opacity="1.0" fill="none" stroke-linecap="round" stroke-linejoin="round"/><path d="M82.5,22.0 L83.5,25.0" stroke="rgb(100,100,100)" stroke-width="4" stroke-opacity="1.0" fill="none" stroke-linecap="round" stroke-linejoin="round"/><path d="M62.0,98.0 L66.0,108.0" stroke="rgb(100,100,100)" stroke-width="4" stroke-opacity="1.0" fill="none" stroke-linecap="round" stroke-linejoin="round"/><path d="M21.7,139.2 L29.0,150.2 L36.4,166.7 L39.1,185.0 L39.1,207.0 L40.0,218.0" stroke="rgb(91,91,91)" stroke-width="5" stroke-opacity="1.0" fill="none" stroke-linecap="round" stroke-linejoin="round"/><path d="M37.3,185.0 L38.8,207.0" stroke="rgb(120,120,120)" stroke-width="3" stroke-opacity="1.0" fill="none" stroke-linecap="round" stroke-linejoin="round"/><path d="M78.5,121.0 L82.0,142.0 L84.0,163.0" stroke="rgb(87,87,87)" stroke-width="6" stroke-opacity="1.0" fill="none" stroke-linecap="round" stroke-linejoin="round"/><path d="M81.0,124.0 L83.3,142.0" stroke="rgb(113,113,113)" stroke-width="3.5" stroke-opacity="1.0" fill="none" stroke-linecap="round" stroke-linejoin="round"/><path d="M82.3,152.0 L83.8,164.0" stroke="rgb(113,113,113)" stroke-width="3.5" stroke-opacity="1.0" fill="none" stroke-linecap="round" stroke-linejoin="round"/><path d="M55.0,145.0 L70.0,185.0" stroke="rgb(76,76,76)" stroke-width="6" stroke-opacity="1.0" fill="none" stroke-linecap="round" stroke-linejoin="round"/><path d="M67.0,174.0 L68.0,178.0" stroke="rgb(109,109,109)" stroke-width="4" stroke-opacity="1.0" fill="none" stroke-linecap="round" stroke-linejoin="round"/><path d="M76.7,166.7 L95.0,212.5" stroke="rgb(73,73,73)" stroke-width="8" stroke-opacity="1.0" fill="none" stroke-linecap="round" stroke-linejoin="round"/><path d="M118.5,199.0 L119.5,205.0" stroke="rgb(109,109,109)" stroke-width="4" stroke-opacity="1.0" fill="none" stroke-linecap="round" stroke-linejoin="round"/><path d="M108.0,147.0 L127.0,177.5" stroke="rgb(73,73,73)" stroke-width="5" stroke-opacity="1.0" fill="none" stroke-linecap="round" stroke-linejoin="round"/><path d="M119.4,185.0 L153.6,215.6" stroke="rgb(69,69,69)" stroke-width="6" stroke-opacity="1.0" fill="none" stroke-linecap="round" stroke-linejoin="round"/><path d="M77.5,97.5 L84.0,125.0" stroke="rgb(66,66,66)" stroke-width="5" stroke-opacity="1.0" fill="none" stroke-linecap="round" stroke-linejoin="round"/><path d="M142.0,25.7 L154.6,46.7" stroke="rgb(118,118,118)" stroke-width="5" stroke-opacity="1.0" fill="none" stroke-linecap="round" stroke-linejoin="round"/><path d="M146.0,33.0 L153.6,44.0" stroke="rgb(155,155,155)" stroke-width="2.5" stroke-opacity="1.0" fill="none" stroke-linecap="round" stroke-linejoin="round"/><path d="M154.6,46.7 L177.7,74.0 L198.8,105.6 L207.2,122.4" stroke="rgb(91,91,91)" stroke-width="5" stroke-opacity="1.0" fill="none" stroke-linecap="round" stroke-linejoin="round"/><path d="M178.0,72.0 L199.0,104.0" stroke="rgb(113,113,113)" stroke-width="3.5" stroke-opacity="1.0" fill="none" stroke-linecap="round" stroke-linejoin="round"/><path d="M167.2,93.0 L182.0,114.0" stroke="rgb(109,109,109)" stroke-width="4" stroke-opacity="1.0" fill="none" stroke-linecap="round" stroke-linejoin="round"/><path d="M179.0,115.0 L190.0,128.0" stroke="rgb(120,120,120)" stroke-width="4" stroke-opacity="1.0" fill="none" stroke-linecap="round" stroke-linejoin="round"/><path d="M182.0,13.0 L187.2,19.4" stroke="rgb(127,127,127)" stroke-width="3.5" stroke-opacity="1.0" fill="none" stroke-linecap="round" stroke-linejoin="round"/><path d="M187.0,19.0 L203.0,47.0" stroke="rgb(73,73,73)" stroke-width="5" stroke-opacity="1.0" fill="none" stroke-linecap="round" stroke-linejoin="round"/><path d="M237.6,13.1 L236.6,25.7 L232.4,46.7" stroke="rgb(100,100,100)" stroke-width="4.5" stroke-opacity="1.0" fill="none" stroke-linecap="round" stroke-linejoin="round"/><path d="M238.5,10.0 L237.5,17.0" stroke="rgb(168,168,168)" stroke-width="3" stroke-opacity="1.0" fill="none" stroke-linecap="round" stroke-linejoin="round"/><path d="M245.0,76.2 L232.4,95.0 L209.3,120.3" stroke="rgb(100,100,100)" stroke-width="5" stroke-opacity="1.0" fill="none" stroke-linecap="round" stroke-linejoin="round"/><path d="M235.0,92.0 L222.0,106.0" stroke="rgb(131,131,131)" stroke-width="3" stroke-opacity="1.0" fill="none" stroke-linecap="round" stroke-linejoin="round"/><path d="M214.0,114.5 L207.0,121.5" stroke="rgb(173,173,173)" stroke-width="3.5" stroke-opacity="1.0" fill="none" stroke-linecap="round" stroke-linejoin="round"/><path d="M166.4,130.0 L181.0,163.0" stroke="rgb(91,91,91)" stroke-width="6" stroke-opacity="1.0" fill="none" stroke-linecap="round" stroke-linejoin="round"/><path d="M182.9,142.9 L184.7,153.9" stroke="rgb(113,113,113)" stroke-width="3" stroke-opacity="1.0" fill="none" stroke-linecap="round" stroke-linejoin="round"/><path d="M173.7,164.9 L175.5,170.4 L180.1,188.7 L184.7,203.4 L190.2,216.2" stroke="rgb(113,113,113)" stroke-width="6" stroke-opacity="1.0" fill="none" stroke-linecap="round" stroke-linejoin="round"/><path d="M175.5,170.4 L180.1,188.7 L184.7,203.4 L189.5,214.5" stroke="rgb(173,173,173)" stroke-width="2.8" stroke-opacity="1.0" fill="none" stroke-linecap="round" stroke-linejoin="round"/><path d="M208.5,144.7 L225.0,188.7 L228.7,207.0" stroke="rgb(82,82,82)" stroke-width="6" stroke-opacity="1.0" fill="none" stroke-linecap="round" stroke-linejoin="round"/><path d="M224.5,188.0 L225.5,197.0" stroke="rgb(173,173,173)" stroke-width="3.5" stroke-opacity="1.0" fill="none" stroke-linecap="round" stroke-linejoin="round"/><path d="M228.5,205.0 L229.0,209.0" stroke="rgb(113,113,113)" stroke-width="3.5" stroke-opacity="1.0" fill="none" stroke-linecap="round" stroke-linejoin="round"/><path d="M149.9,184.0 L151.0,193.0" stroke="rgb(100,100,100)" stroke-width="3" stroke-opacity="1.0" fill="none" stroke-linecap="round" stroke-linejoin="round"/><path d="M14.6,124.0 L16.3,134.0 L18.0,144.0" stroke="rgb(255,255,255)" stroke-width="5.2" stroke-opacity="1.0" fill="none" stroke-linecap="round" stroke-linejoin="round"/><path d="M15.4,128.0 L16.3,134.0 L17.2,140.0" stroke="rgb(255,255,255)" stroke-width="4" stroke-opacity="1.0" fill="none" stroke-linecap="round" stroke-linejoin="round"/></g></g></g></g>
<path d="M244.5,100.2 L248,98.9 L251,100.6 L254,98.7 L256.4,100 L256.4,104.5 L252,105 L249,106 L246,104.8 L244.6,102.6 Z" fill="#e4e4e4" stroke="#bdbdbd" stroke-width="0.8" stroke-linejoin="round"/>
<g fill="#dcdcdc" fill-opacity="0.8"><ellipse cx="147.5" cy="3.8" rx="2.2" ry="1.3"/><ellipse cx="164.3" cy="3.5" rx="1.8" ry="1.1"/><ellipse cx="176.2" cy="3" rx="1.6" ry="1"/><ellipse cx="208.8" cy="4.5" rx="2" ry="1.1"/><rect x="254.4" y="3.6" width="2.6" height="3.4" fill="#fff"/><ellipse cx="250.5" cy="62" rx="1.2" ry="1.6"/><ellipse cx="3" cy="98" rx="1" ry="2.2"/></g>
<g clip-path="url(#cpp)"><g><g fill="none" stroke="#000" stroke-width="2.9" stroke-linecap="round" stroke-linejoin="round"><path d="M43.4,-0.5 L43.9,2.4 L46.2,4.6 L46.0,7.9 L48.5,9.9 L48.7,13.0 L51.1,15.1 L50.4,18.3 L52.4,20.9 L51.5,24.0 L52.9,26.7 L52.1,29.9 L54.8,31.9 L54.9,35.1 L57.4,37.1 L57.8,40.2 L60.4,42.1 L60.5,45.2 L63.0,47.3 L62.5,50.7 L64.8,52.9 L65.0,55.9 L67.1,58.2 L66.6,61.5 L68.9,63.7 L68.7,66.9 L70.8,69.2 L70.5,70.5"/><path d="M70.5,71.0 L67.8,72.5 L67.2,75.7 L64.7,77.5 L64.2,80.5 L61.7,82.5 L61.7,85.8 L59.0,87.7 L59.0,90.9 L56.6,93.0 L56.8,96.2 L54.3,98.3 L54.2,101.4 L52.0,103.6 L52.0,106.8 L49.5,108.9 L49.9,112.2 L47.1,114.2 L47.4,117.4 L45.0,119.6 L45.0,122.6 L43.6,125.3 L44.2,128.3 L42.8,131.1 L44.3,133.9 L43.5,136.9 L45.2,139.7 L43.5,142.6 L44.8,145.6 L43.3,148.4 L44.3,151.3 L43.4,154.3 L44.7,157.1 L43.6,160.1 L45.4,162.9 L44.0,165.9 L45.6,168.7 L43.9,171.2 L44.1,174.4 L41.4,176.3 L41.6,179.6 L39.3,181.8 L40.5,185.0 L38.6,187.7 L39.8,190.7 L38.0,193.5 L39.4,196.4 L38.1,199.3 L39.7,202.2 L38.3,205.1 L39.7,208.0 L38.4,210.9 L40.0,213.8 L38.5,216.7 L39.9,219.7 L38.3,222.5 L38.9,223.0"/><path d="M70.5,70.5 L72.1,72.9 L74.9,74.3 L75.7,77.4 L78.6,78.9 L79.3,82.1 L82.0,83.2 L84.6,84.5 L87.8,83.6 L89.3,86.2 L91.8,88.0 L92.4,91.4 L95.7,90.4 L98.5,92.0 L101.4,90.7 L104.3,92.2 L107.2,91.0 L110.1,92.4 L113.0,90.9 L115.8,92.6 L119.1,91.5 L120.2,94.8 L123.0,95.9 L125.4,97.7 L128.6,96.9 L131.0,98.7 L133.5,99.8 L133.8,103.1 L136.6,104.9 L136.8,108.2 L140.2,108.8 L141.5,111.8 L144.8,112.2 L146.5,115.1 L149.7,114.8 L151.9,117.2 L155.3,116.9 L156.5,120.1 L159.4,121.3 L160.6,124.1 L163.3,125.5 L164.2,128.6 L167.3,129.5 L168.9,132.3 L172.0,132.9 L173.7,135.6 L176.8,136.1 L178.7,138.6 L181.9,138.7 L183.9,141.2 L186.0,141.5"/><path d="M96.3,-0.5 L97.2,2.3 L99.6,4.3 L100.0,7.4 L102.4,9.4 L103.0,12.4 L105.6,14.2 L106.1,17.4 L109.2,18.7 L109.3,21.9 L111.2,24.3 L110.6,27.4 L112.5,30.0 L112.0,33.0 L113.6,35.6 L113.8,38.6 L116.2,40.7 L115.8,44.1 L118.5,46.1 L118.2,49.4 L120.6,51.5 L120.1,54.6 L121.6,57.3 L120.3,60.3 L122.1,63.1 L120.6,66.1 L122.0,69.0 L120.6,71.8 L121.8,74.8 L120.1,77.6 L121.1,80.5 L119.9,83.4 L121.1,86.3 L119.7,89.2 L120.6,92.0"/><path d="M199.5,130.0 L201.5,127.7 L201.4,124.5 L204.1,122.7 L204.4,119.4 L207.3,118.0 L208.6,115.1 L211.7,114.5 L213.5,111.9 L216.9,112.2 L218.7,109.6 L221.7,108.9 L223.7,106.7 L226.7,107.9 L229.4,106.7 L232.1,106.1 L232.3,102.6 L235.2,102.2 L237.6,100.9 L239.7,99.3 L240.4,96.2 L243.8,97.3 L246.2,95.2 L248.9,94.2 L248.9,90.9 L251.2,88.7 L251.3,85.6 L253.3,83.3 L253.6,81.6"/></g><path d="M192.0,130.1 L199.6,130.3 L202.1,135.3 L203.9,142.3 L203.1,149.5 L205.7,154.8 L208.4,160.3 L211.2,165.8 L213.3,171.4 L212.6,177.0 L214.1,181.2 L211.9,185.4 L214.1,191.1 L212.0,194.6 L207.0,196.5 L205.7,202.0 L203.8,208.9 L205.3,214.7 L207.3,218.3 L207.3,221.3 L193.3,221.1 L193.4,218.1 L194.7,214.4 L191.5,209.0 L189.7,202.0 L186.9,196.6 L184.1,192.4 L182.4,186.9 L184.8,181.2 L184.1,174.2 L185.6,168.7 L183.8,163.0 L186.9,156.0 L186.8,149.0 L186.7,143.3 L189.4,136.4 L192.0,131.6Z" fill="#000" stroke="#000" stroke-width="1" stroke-linejoin="round"/><path d="M192.0,130.1h0 M195.8,130.2h0 M199.6,130.3h0 M200.9,132.8h0 M202.1,135.3h0 M203.0,138.8h0 M203.9,142.3h0 M203.5,145.9h0 M203.1,149.5h0 M204.4,152.1h0 M205.7,154.8h0 M207.0,157.5h0 M208.4,160.3h0 M209.8,163.1h0 M211.2,165.8h0 M212.3,168.6h0 M213.3,171.4h0 M213.0,174.2h0 M212.6,177.0h0 M214.1,181.2h0 M211.9,185.4h0 M213.0,188.2h0 M214.1,191.1h0 M212.0,194.6h0 M207.0,196.5h0 M206.3,199.2h0 M205.7,202.0h0 M204.8,205.4h0 M203.8,208.9h0 M204.5,211.8h0 M205.3,214.7h0 M207.3,218.3h0 M207.3,221.3h0 M203.8,221.3h0 M200.3,221.2h0 M196.8,221.1h0 M193.3,221.1h0 M193.4,218.1h0 M194.7,214.4h0 M193.1,211.7h0 M191.5,209.0h0 M190.6,205.5h0 M189.7,202.0h0 M188.3,199.3h0 M186.9,196.6h0 M184.1,192.4h0 M183.2,189.7h0 M182.4,186.9h0 M183.6,184.0h0 M184.8,181.2h0 M184.4,177.7h0 M184.1,174.2h0 M184.8,171.4h0 M185.6,168.7h0 M184.7,165.8h0 M183.8,163.0h0 M185.3,159.5h0 M186.9,156.0h0 M186.8,152.5h0 M186.8,149.0h0 M186.8,146.1h0 M186.7,143.3h0 M188.1,139.8h0 M189.4,136.4h0 M190.7,134.0h0 M192.0,131.6h0" stroke="#000" stroke-width="4.4" stroke-linecap="round" fill="none"/><circle cx="254.4" cy="81.3" r="2.3" fill="#000"/></g></g>
<g><path d="M0,222.50h-4.9 M0,213.60h-2.5 M0,204.70h-2.5 M0,195.80h-2.5 M0,186.90h-2.5 M0,178.00h-4.9 M0,169.10h-2.5 M0,160.20h-2.5 M0,151.30h-2.5 M0,142.40h-2.5 M0,133.50h-4.9 M0,124.60h-2.5 M0,115.70h-2.5 M0,106.80h-2.5 M0,97.90h-2.5 M0,89.00h-4.9 M0,80.10h-2.5 M0,71.20h-2.5 M0,62.30h-2.5 M0,53.40h-2.5 M0,44.50h-4.9 M0,35.60h-2.5 M0,26.70h-2.5 M0,17.80h-2.5 M0,8.90h-2.5 M0,0.00h-4.9 M0.00,222.5v4.9 M10.28,222.5v2.5 M20.56,222.5v2.5 M30.84,222.5v2.5 M41.12,222.5v2.5 M51.40,222.5v4.9 M61.68,222.5v2.5 M71.96,222.5v2.5 M82.24,222.5v2.5 M92.52,222.5v2.5 M102.80,222.5v4.9 M113.08,222.5v2.5 M123.36,222.5v2.5 M133.64,222.5v2.5 M143.92,222.5v2.5 M154.20,222.5v4.9 M164.48,222.5v2.5 M174.76,222.5v2.5 M185.04,222.5v2.5 M195.32,222.5v2.5 M205.60,222.5v4.9 M215.88,222.5v2.5 M226.16,222.5v2.5 M236.44,222.5v2.5 M246.72,222.5v2.5 M257.00,222.5v4.9" stroke="#222" stroke-width="0.9" fill="none"/><path d="M0,0V222.5H257.0" stroke="#333" stroke-width="1" fill="none"/><path d="M0,-0.3H257.0" stroke="#666" stroke-width="1.2" stroke-dasharray="1.3 1.3" fill="none"/></g>
<text class="ax" x="-7.6" y="4.3" font-size="12.4" text-anchor="end">26</text>
<text class="ax" x="-7.6" y="48.8" font-size="12.4" text-anchor="end">20.8</text>
<text class="ax" x="-7.6" y="93.3" font-size="12.4" text-anchor="end">15.6</text>
<text class="ax" x="-7.6" y="137.8" font-size="12.4" text-anchor="end">10.4</text>
<text class="ax" x="-7.6" y="182.3" font-size="12.4" text-anchor="end">5.2</text>
<text class="ax" x="-7.6" y="226.8" font-size="12.4" text-anchor="end">0</text>
<text class="ax" x="0.0" y="241.8" font-size="12" text-anchor="middle">0</text>
<text class="ax" x="51.4" y="241.8" font-size="12" text-anchor="middle">6</text>
<text class="ax" x="102.8" y="241.8" font-size="12" text-anchor="middle">12</text>
<text class="ax" x="154.2" y="241.8" font-size="12" text-anchor="middle">18</text>
<text class="ax" x="205.6" y="241.8" font-size="12" text-anchor="middle">24</text>
<text class="ax" x="257.0" y="241.8" font-size="12" text-anchor="middle">30</text>
<text class="ax" x="128.5" y="258.6" font-size="12" text-anchor="middle">x (μ m)</text>
<text class="ax" transform="translate(-38.6,111.2) rotate(-90)" font-size="12.4" text-anchor="middle">y (μ m)</text>
</g>
<text class="ax" x="-0.3" y="345.8" font-size="16.2" font-weight="bold">(c)</text>
<g transform="translate(445.3,360.3)">
<rect x="0" y="0" width="257.0" height="222.5" fill="#5f5f5f"/>
<rect x="0" y="0" width="257.0" height="222.5" filter="url(#sem)" opacity="0.33"/>
<rect x="0" y="0" width="257.0" height="222.5" filter="url(#sem2)" opacity="0.15"/>
<g clip-path="url(#cpd)"><g filter="url(#jetd)"><g><rect x="-20" y="-20" width="300" height="270" fill="rgb(10,10,10)"/><g filter="url(#bl2)"><ellipse cx="26" cy="110" rx="12" ry="105" fill="rgb(17,17,17)" fill-opacity="1.0" transform="rotate(0 26 110)"/><ellipse cx="85" cy="165" rx="30" ry="55" fill="rgb(25,25,25)" fill-opacity="1.0" transform="rotate(-10 85 165)"/><ellipse cx="168" cy="68" rx="24" ry="68" fill="rgb(34,34,34)" fill-opacity="1.0" transform="rotate(-33 168 68)"/><ellipse cx="238" cy="40" rx="8" ry="35" fill="rgb(28,28,28)" fill-opacity="1.0" transform="rotate(0 238 40)"/><ellipse cx="176" cy="170" rx="9" ry="45" fill="rgb(34,34,34)" fill-opacity="1.0" transform="rotate(-15 176 170)"/><ellipse cx="220" cy="175" rx="8" ry="40" fill="rgb(32,32,32)" fill-opacity="1.0" transform="rotate(-15 220 175)"/><ellipse cx="244" cy="190" rx="4" ry="28" fill="rgb(28,28,28)" fill-opacity="1.0" transform="rotate(0 244 190)"/><ellipse cx="226" cy="100" rx="7" ry="32" fill="rgb(34,34,34)" fill-opacity="1.0" transform="rotate(42 226 100)"/><ellipse cx="50" cy="50" rx="12" ry="35" fill="rgb(23,23,23)" fill-opacity="1.0" transform="rotate(-20 50 50)"/><ellipse cx="133" cy="55" rx="10" ry="40" fill="rgb(25,25,25)" fill-opacity="1.0" transform="rotate(-10 133 55)"/><ellipse cx="125" cy="180" rx="18" ry="40" fill="rgb(18,18,18)" fill-opacity="1.0" transform="rotate(-30 125 180)"/></g><g clip-path="url(#cpUR)"><g transform="skewX(31)"><rect x="-160" y="-20" width="440" height="270" filter="url(#nzL)" opacity="0.09"/></g><g transform="skewX(31)"><rect x="-160" y="-20" width="440" height="270" filter="url(#nz)" opacity="0.15"/></g><g transform="skewX(31)"><rect x="-160" y="-20" width="440" height="270" filter="url(#nz2)" opacity="0.05"/></g></g><g clip-path="url(#cpNUR)"><g transform="skewX(13)"><rect x="-160" y="-20" width="440" height="270" filter="url(#nzL)" opacity="0.09"/></g><g transform="skewX(13)"><rect x="-160" y="-20" width="440" height="270" filter="url(#nz)" opacity="0.15"/></g><g transform="skewX(13)"><rect x="-160" y="-20" width="440" height="270" filter="url(#nz2)" opacity="0.05"/></g></g><g filter="url(#bl2)"><ellipse cx="92" cy="52" rx="17" ry="32" fill="#000" fill-opacity="0.62" transform="rotate(22 92 52)"/><ellipse cx="212" cy="35" rx="9" ry="28" fill="#000" fill-opacity="0.75" transform="rotate(-35 212 35)"/><ellipse cx="222" cy="80" rx="8" ry="22" fill="#000" fill-opacity="0.7" transform="rotate(0 222 80)"/><ellipse cx="238" cy="140" rx="7" ry="22" fill="#000" fill-opacity="0.7" transform="rotate(0 238 140)"/><ellipse cx="30" cy="95" rx="7" ry="34" fill="#000" fill-opacity="0.6" transform="rotate(0 30 95)"/><ellipse cx="20" cy="178" rx="6" ry="25" fill="#000" fill-opacity="0.4" transform="rotate(0 20 178)"/><ellipse cx="145" cy="145" rx="6" ry="18" fill="#000" fill-opacity="0.5" transform="rotate(-15 145 145)"/><ellipse cx="164" cy="195" rx="4" ry="14" fill="#000" fill-opacity="0.6" transform="rotate(-10 164 195)"/></g><g filter="url(#bl)"><ellipse cx="99" cy="150" rx="4" ry="5" fill="#000" fill-opacity="0.7" transform="rotate(0 99 150)"/><ellipse cx="60" cy="135" rx="4" ry="5" fill="#000" fill-opacity="0.6" transform="rotate(0 60 135)"/><ellipse cx="102" cy="189" rx="4" ry="5" fill="#000" fill-opacity="0.6" transform="rotate(0 102 189)"/><ellipse cx="234" cy="192" rx="3.5" ry="4.5" fill="#000" fill-opacity="0.95" transform="rotate(20 234 192)"/><ellipse cx="217.5" cy="97" rx="4" ry="4.5" fill="#000" fill-opacity="0.85" transform="rotate(0 217.5 97)"/><ellipse cx="23.5" cy="130" rx="3" ry="5" fill="#000" fill-opacity="0.6" transform="rotate(0 23.5 130)"/></g><g filter="url(#blw)"><path d="M8.0,20.0 L10.0,60.0 L12.5,100.0 L15.0,124.0" stroke="rgb(106,106,106)" stroke-width="6" stroke-opacity="1.0" fill="none" stroke-linecap="round" stroke-linejoin="round"/><path d="M11.5,50.0 L12.5,85.0 L14.5,118.0" stroke="rgb(131,131,131)" stroke-width="3.5" stroke-opacity="1.0" fill="none" stroke-linecap="round" stroke-linejoin="round"/><path d="M16.5,30.0 L17.0,82.0" stroke="rgb(100,100,100)" stroke-width="4" stroke-opacity="1.0" fill="none" stroke-linecap="round" stroke-linejoin="round"/><path d="M14.5,116.0 L16.3,134.0 L19.0,148.0 L23.0,156.0" stroke="rgb(120,120,120)" stroke-width="7" stroke-opacity="1.0" fill="none" stroke-linecap="round" stroke-linejoin="round"/><path d="M45.5,56.5 L54.7,80.4" stroke="rgb(120,120,120)" stroke-width="4.5" stroke-opacity="1.0" fill="none" stroke-linecap="round" stroke-linejoin="round"/><path d="M54.7,30.9 L60.2,43.7" stroke="rgb(91,91,91)" stroke-width="4" stroke-opacity="1.0" fill="none" stroke-linecap="round" stroke-linejoin="round"/><path d="M82.5,22.0 L83.5,25.0" stroke="rgb(100,100,100)" stroke-width="4" stroke-opacity="1.0" fill="none" stroke-linecap="round" stroke-linejoin="round"/><path d="M62.0,98.0 L66.0,108.0" stroke="rgb(100,100,100)" stroke-width="4" stroke-opacity="1.0" fill="none" stroke-linecap="round" stroke-linejoin="round"/><path d="M21.7,139.2 L29.0,150.2 L36.4,166.7 L39.1,185.0 L39.1,207.0 L40.0,218.0" stroke="rgb(91,91,91)" stroke-width="5" stroke-opacity="1.0" fill="none" stroke-linecap="round" stroke-linejoin="round"/><path d="M37.3,185.0 L38.8,207.0" stroke="rgb(120,120,120)" stroke-width="3" stroke-opacity="1.0" fill="none" stroke-linecap="round" stroke-linejoin="round"/><path d="M78.5,121.0 L82.0,142.0 L84.0,163.0" stroke="rgb(87,87,87)" stroke-width="6" stroke-opacity="1.0" fill="none" stroke-linecap="round" stroke-linejoin="round"/><path d="M81.0,124.0 L83.3,142.0" stroke="rgb(113,113,113)" stroke-width="3.5" stroke-opacity="1.0" fill="none" stroke-linecap="round" stroke-linejoin="round"/><path d="M82.3,152.0 L83.8,164.0" stroke="rgb(113,113,113)" stroke-width="3.5" stroke-opacity="1.0" fill="none" stroke-linecap="round" stroke-linejoin="round"/><path d="M55.0,145.0 L70.0,185.0" stroke="rgb(76,76,76)" stroke-width="6" stroke-opacity="1.0" fill="none" stroke-linecap="round" stroke-linejoin="round"/><path d="M67.0,174.0 L68.0,178.0" stroke="rgb(109,109,109)" stroke-width="4" stroke-opacity="1.0" fill="none" stroke-linecap="round" stroke-linejoin="round"/><path d="M76.7,166.7 L95.0,212.5" stroke="rgb(73,73,73)" stroke-width="8" stroke-opacity="1.0" fill="none" stroke-linecap="round" stroke-linejoin="round"/><path d="M118.5,199.0 L119.5,205.0" stroke="rgb(109,109,109)" stroke-width="4" stroke-opacity="1.0" fill="none" stroke-linecap="round" stroke-linejoin="round"/><path d="M108.0,147.0 L127.0,177.5" stroke="rgb(73,73,73)" stroke-width="5" stroke-opacity="1.0" fill="none" stroke-linecap="round" stroke-linejoin="round"/><path d="M119.4,185.0 L153.6,215.6" stroke="rgb(69,69,69)" stroke-width="6" stroke-opacity="1.0" fill="none" stroke-linecap="round" stroke-linejoin="round"/><path d="M77.5,97.5 L84.0,125.0" stroke="rgb(66,66,66)" stroke-width="5" stroke-opacity="1.0" fill="none" stroke-linecap="round" stroke-linejoin="round"/><path d="M142.0,25.7 L154.6,46.7" stroke="rgb(118,118,118)" stroke-width="5" stroke-opacity="1.0" fill="none" stroke-linecap="round" stroke-linejoin="round"/><path d="M146.0,33.0 L153.6,44.0" stroke="rgb(155,155,155)" stroke-width="2.5" stroke-opacity="1.0" fill="none" stroke-linecap="round" stroke-linejoin="round"/><path d="M154.6,46.7 L177.7,74.0 L198.8,105.6 L207.2,122.4" stroke="rgb(91,91,91)" stroke-width="5" stroke-opacity="1.0" fill="none" stroke-linecap="round" stroke-linejoin="round"/><path d="M178.0,72.0 L199.0,104.0" stroke="rgb(113,113,113)" stroke-width="3.5" stroke-opacity="1.0" fill="none" stroke-linecap="round" stroke-linejoin="round"/><path d="M167.2,93.0 L182.0,114.0" stroke="rgb(109,109,109)" stroke-width="4" stroke-opacity="1.0" fill="none" stroke-linecap="round" stroke-linejoin="round"/><path d="M179.0,115.0 L190.0,128.0" stroke="rgb(120,120,120)" stroke-width="4" stroke-opacity="1.0" fill="none" stroke-linecap="round" stroke-linejoin="round"/><path d="M182.0,13.0 L187.2,19.4" stroke="rgb(127,127,127)" stroke-width="3.5" stroke-opacity="1.0" fill="none" stroke-linecap="round" stroke-linejoin="round"/><path d="M187.0,19.0 L203.0,47.0" stroke="rgb(73,73,73)" stroke-width="5" stroke-opacity="1.0" fill="none" stroke-linecap="round" stroke-linejoin="round"/><path d="M237.6,13.1 L236.6,25.7 L232.4,46.7" stroke="rgb(100,100,100)" stroke-width="4.5" stroke-opacity="1.0" fill="none" stroke-linecap="round" stroke-linejoin="round"/><path d="M238.5,10.0 L237.5,17.0" stroke="rgb(168,168,168)" stroke-width="3" stroke-opacity="1.0" fill="none" stroke-linecap="round" stroke-linejoin="round"/><path d="M245.0,76.2 L232.4,95.0 L209.3,120.3" stroke="rgb(100,100,100)" stroke-width="5" stroke-opacity="1.0" fill="none" stroke-linecap="round" stroke-linejoin="round"/><path d="M235.0,92.0 L222.0,106.0" stroke="rgb(131,131,131)" stroke-width="3" stroke-opacity="1.0" fill="none" stroke-linecap="round" stroke-linejoin="round"/><path d="M214.0,114.5 L207.0,121.5" stroke="rgb(173,173,173)" stroke-width="3.5" stroke-opacity="1.0" fill="none" stroke-linecap="round" stroke-linejoin="round"/><path d="M166.4,130.0 L181.0,163.0" stroke="rgb(91,91,91)" stroke-width="6" stroke-opacity="1.0" fill="none" stroke-linecap="round" stroke-linejoin="round"/><path d="M182.9,142.9 L184.7,153.9" stroke="rgb(113,113,113)" stroke-width="3" stroke-opacity="1.0" fill="none" stroke-linecap="round" stroke-linejoin="round"/><path d="M173.7,164.9 L175.5,170.4 L180.1,188.7 L184.7,203.4 L190.2,216.2" stroke="rgb(113,113,113)" stroke-width="6" stroke-opacity="1.0" fill="none" stroke-linecap="round" stroke-linejoin="round"/><path d="M175.5,170.4 L180.1,188.7 L184.7,203.4 L189.5,214.5" stroke="rgb(173,173,173)" stroke-width="2.8" stroke-opacity="1.0" fill="none" stroke-linecap="round" stroke-linejoin="round"/><path d="M208.5,144.7 L225.0,188.7 L228.7,207.0" stroke="rgb(82,82,82)" stroke-width="6" stroke-opacity="1.0" fill="none" stroke-linecap="round" stroke-linejoin="round"/><path d="M224.5,188.0 L225.5,197.0" stroke="rgb(173,173,173)" stroke-width="3.5" stroke-opacity="1.0" fill="none" stroke-linecap="round" stroke-linejoin="round"/><path d="M228.5,205.0 L229.0,209.0" stroke="rgb(113,113,113)" stroke-width="3.5" stroke-opacity="1.0" fill="none" stroke-linecap="round" stroke-linejoin="round"/><path d="M149.9,184.0 L151.0,193.0" stroke="rgb(100,100,100)" stroke-width="3" stroke-opacity="1.0" fill="none" stroke-linecap="round" stroke-linejoin="round"/><path d="M14.6,124.0 L16.3,134.0 L18.0,144.0" stroke="rgb(255,255,255)" stroke-width="5.2" stroke-opacity="1.0" fill="none" stroke-linecap="round" stroke-linejoin="round"/><path d="M15.4,128.0 L16.3,134.0 L17.2,140.0" stroke="rgb(255,255,255)" stroke-width="4" stroke-opacity="1.0" fill="none" stroke-linecap="round" stroke-linejoin="round"/></g></g></g></g>
<path d="M244.5,100.2 L248,98.9 L251,100.6 L254,98.7 L256.4,100 L256.4,104.5 L252,105 L249,106 L246,104.8 L244.6,102.6 Z" fill="#e4e4e4" stroke="#bdbdbd" stroke-width="0.8" stroke-linejoin="round"/>
<g fill="#dcdcdc" fill-opacity="0.8"><ellipse cx="147.5" cy="3.8" rx="2.2" ry="1.3"/><ellipse cx="164.3" cy="3.5" rx="1.8" ry="1.1"/><ellipse cx="176.2" cy="3" rx="1.6" ry="1"/><ellipse cx="208.8" cy="4.5" rx="2" ry="1.1"/><rect x="254.4" y="3.6" width="2.6" height="3.4" fill="#fff"/><ellipse cx="250.5" cy="62" rx="1.2" ry="1.6"/><ellipse cx="3" cy="98" rx="1" ry="2.2"/></g>
<g clip-path="url(#cpp)"><g><g fill="none" stroke="#000" stroke-width="2.9" stroke-linecap="round" stroke-linejoin="round"><path d="M43.4,-0.5 L43.9,2.4 L46.2,4.6 L46.0,7.9 L48.5,9.9 L48.7,13.0 L51.1,15.1 L50.4,18.3 L52.4,20.9 L51.5,24.0 L52.9,26.7 L52.1,29.9 L54.8,31.9 L54.9,35.1 L57.4,37.1 L57.8,40.2 L60.4,42.1 L60.5,45.2 L63.0,47.3 L62.5,50.7 L64.8,52.9 L65.0,55.9 L67.1,58.2 L66.6,61.5 L68.9,63.7 L68.7,66.9 L70.8,69.2 L70.5,70.5"/><path d="M70.5,71.0 L67.8,72.5 L67.2,75.7 L64.7,77.5 L64.2,80.5 L61.7,82.5 L61.7,85.8 L59.0,87.7 L59.0,90.9 L56.6,93.0 L56.8,96.2 L54.3,98.3 L54.2,101.4 L52.0,103.6 L52.0,106.8 L49.5,108.9 L49.9,112.2 L47.1,114.2 L47.4,117.4 L45.0,119.6 L45.0,122.6 L43.6,125.3 L44.2,128.3 L42.8,131.1 L44.3,133.9 L43.5,136.9 L45.2,139.7 L43.5,142.6 L44.8,145.6 L43.3,148.4 L44.3,151.3 L43.4,154.3 L44.7,157.1 L43.6,160.1 L45.4,162.9 L44.0,165.9 L45.6,168.7 L43.9,171.2 L44.1,174.4 L41.4,176.3 L41.6,179.6 L39.3,181.8 L40.5,185.0 L38.6,187.7 L39.8,190.7 L38.0,193.5 L39.4,196.4 L38.1,199.3 L39.7,202.2 L38.3,205.1 L39.7,208.0 L38.4,210.9 L40.0,213.8 L38.5,216.7 L39.9,219.7 L38.3,222.5 L38.9,223.0"/><path d="M70.5,70.5 L72.1,72.9 L74.9,74.3 L75.7,77.4 L78.6,78.9 L79.3,82.1 L82.0,83.2 L84.6,84.5 L87.8,83.6 L89.3,86.2 L91.8,88.0 L92.4,91.4 L95.7,90.4 L98.5,92.0 L101.4,90.7 L104.3,92.2 L107.2,91.0 L110.1,92.4 L113.0,90.9 L115.8,92.6 L119.1,91.5 L120.2,94.8 L123.0,95.9 L125.4,97.7 L128.6,96.9 L131.0,98.7 L133.5,99.8 L133.8,103.1 L136.6,104.9 L136.8,108.2 L140.2,108.8 L141.5,111.8 L144.8,112.2 L146.5,115.1 L149.7,114.8 L151.9,117.2 L155.3,116.9 L156.5,120.1 L159.4,121.3 L160.6,124.1 L163.3,125.5 L164.2,128.6 L167.3,129.5 L168.9,132.3 L172.0,132.9 L173.7,135.6 L176.8,136.1 L178.7,138.6 L181.9,138.7 L183.9,141.2 L186.0,141.5"/><path d="M96.3,-0.5 L97.2,2.3 L99.6,4.3 L100.0,7.4 L102.4,9.4 L103.0,12.4 L105.6,14.2 L106.1,17.4 L109.2,18.7 L109.3,21.9 L111.2,24.3 L110.6,27.4 L112.5,30.0 L112.0,33.0 L113.6,35.6 L113.8,38.6 L116.2,40.7 L115.8,44.1 L118.5,46.1 L118.2,49.4 L120.6,51.5 L120.1,54.6 L121.6,57.3 L120.3,60.3 L122.1,63.1 L120.6,66.1 L122.0,69.0 L120.6,71.8 L121.8,74.8 L120.1,77.6 L121.1,80.5 L119.9,83.4 L121.1,86.3 L119.7,89.2 L120.6,92.0"/><path d="M199.5,130.0 L201.5,127.7 L201.4,124.5 L204.1,122.7 L204.4,119.4 L207.3,118.0 L208.6,115.1 L211.7,114.5 L213.5,111.9 L216.9,112.2 L218.7,109.6 L221.7,108.9 L223.7,106.7 L226.7,107.9 L229.4,106.7 L232.1,106.1 L232.3,102.6 L235.2,102.2 L237.6,100.9 L239.7,99.3 L240.4,96.2 L243.8,97.3 L246.2,95.2 L248.9,94.2 L248.9,90.9 L251.2,88.7 L251.3,85.6 L253.3,83.3 L253.6,81.6"/></g><path d="M192.0,130.1 L199.6,130.3 L202.1,135.3 L203.9,142.3 L203.1,149.5 L205.7,154.8 L208.4,160.3 L211.2,165.8 L213.3,171.4 L212.6,177.0 L214.1,181.2 L211.9,185.4 L214.1,191.1 L212.0,194.6 L207.0,196.5 L205.7,202.0 L203.8,208.9 L205.3,214.7 L207.3,218.3 L207.3,221.3 L193.3,221.1 L193.4,218.1 L194.7,214.4 L191.5,209.0 L189.7,202.0 L186.9,196.6 L184.1,192.4 L182.4,186.9 L184.8,181.2 L184.1,174.2 L185.6,168.7 L183.8,163.0 L186.9,156.0 L186.8,149.0 L186.7,143.3 L189.4,136.4 L192.0,131.6Z" fill="#000" stroke="#000" stroke-width="1" stroke-linejoin="round"/><path d="M192.0,130.1h0 M195.8,130.2h0 M199.6,130.3h0 M200.9,132.8h0 M202.1,135.3h0 M203.0,138.8h0 M203.9,142.3h0 M203.5,145.9h0 M203.1,149.5h0 M204.4,152.1h0 M205.7,154.8h0 M207.0,157.5h0 M208.4,160.3h0 M209.8,163.1h0 M211.2,165.8h0 M212.3,168.6h0 M213.3,171.4h0 M213.0,174.2h0 M212.6,177.0h0 M214.1,181.2h0 M211.9,185.4h0 M213.0,188.2h0 M214.1,191.1h0 M212.0,194.6h0 M207.0,196.5h0 M206.3,199.2h0 M205.7,202.0h0 M204.8,205.4h0 M203.8,208.9h0 M204.5,211.8h0 M205.3,214.7h0 M207.3,218.3h0 M207.3,221.3h0 M203.8,221.3h0 M200.3,221.2h0 M196.8,221.1h0 M193.3,221.1h0 M193.4,218.1h0 M194.7,214.4h0 M193.1,211.7h0 M191.5,209.0h0 M190.6,205.5h0 M189.7,202.0h0 M188.3,199.3h0 M186.9,196.6h0 M184.1,192.4h0 M183.2,189.7h0 M182.4,186.9h0 M183.6,184.0h0 M184.8,181.2h0 M184.4,177.7h0 M184.1,174.2h0 M184.8,171.4h0 M185.6,168.7h0 M184.7,165.8h0 M183.8,163.0h0 M185.3,159.5h0 M186.9,156.0h0 M186.8,152.5h0 M186.8,149.0h0 M186.8,146.1h0 M186.7,143.3h0 M188.1,139.8h0 M189.4,136.4h0 M190.7,134.0h0 M192.0,131.6h0" stroke="#000" stroke-width="4.4" stroke-linecap="round" fill="none"/><circle cx="254.4" cy="81.3" r="2.3" fill="#000"/></g></g>
<g><path d="M0,222.50h-4.9 M0,213.60h-2.5 M0,204.70h-2.5 M0,195.80h-2.5 M0,186.90h-2.5 M0,178.00h-4.9 M0,169.10h-2.5 M0,160.20h-2.5 M0,151.30h-2.5 M0,142.40h-2.5 M0,133.50h-4.9 M0,124.60h-2.5 M0,115.70h-2.5 M0,106.80h-2.5 M0,97.90h-2.5 M0,89.00h-4.9 M0,80.10h-2.5 M0,71.20h-2.5 M0,62.30h-2.5 M0,53.40h-2.5 M0,44.50h-4.9 M0,35.60h-2.5 M0,26.70h-2.5 M0,17.80h-2.5 M0,8.90h-2.5 M0,0.00h-4.9 M0.00,222.5v4.9 M10.28,222.5v2.5 M20.56,222.5v2.5 M30.84,222.5v2.5 M41.12,222.5v2.5 M51.40,222.5v4.9 M61.68,222.5v2.5 M71.96,222.5v2.5 M82.24,222.5v2.5 M92.52,222.5v2.5 M102.80,222.5v4.9 M113.08,222.5v2.5 M123.36,222.5v2.5 M133.64,222.5v2.5 M143.92,222.5v2.5 M154.20,222.5v4.9 M164.48,222.5v2.5 M174.76,222.5v2.5 M185.04,222.5v2.5 M195.32,222.5v2.5 M205.60,222.5v4.9 M215.88,222.5v2.5 M226.16,222.5v2.5 M236.44,222.5v2.5 M246.72,222.5v2.5 M257.00,222.5v4.9" stroke="#222" stroke-width="0.9" fill="none"/><path d="M0,0V222.5H257.0" stroke="#333" stroke-width="1" fill="none"/><path d="M0,-0.3H257.0" stroke="#666" stroke-width="1.2" stroke-dasharray="1.3 1.3" fill="none"/></g>
<text class="ax" x="-7.6" y="4.3" font-size="12.4" text-anchor="end">26</text>
<text class="ax" x="-7.6" y="48.8" font-size="12.4" text-anchor="end">20.8</text>
<text class="ax" x="-7.6" y="93.3" font-size="12.4" text-anchor="end">15.6</text>
<text class="ax" x="-7.6" y="137.8" font-size="12.4" text-anchor="end">10.4</text>
<text class="ax" x="-7.6" y="182.3" font-size="12.4" text-anchor="end">5.2</text>
<text class="ax" x="-7.6" y="226.8" font-size="12.4" text-anchor="end">0</text>
<text class="ax" x="0.0" y="241.8" font-size="12" text-anchor="middle">0</text>
<text class="ax" x="51.4" y="241.8" font-size="12" text-anchor="middle">6</text>
<text class="ax" x="102.8" y="241.8" font-size="12" text-anchor="middle">12</text>
<text class="ax" x="154.2" y="241.8" font-size="12" text-anchor="middle">18</text>
<text class="ax" x="205.6" y="241.8" font-size="12" text-anchor="middle">24</text>
<text class="ax" x="257.0" y="241.8" font-size="12" text-anchor="middle">30</text>
<text class="ax" x="128.5" y="258.6" font-size="12" text-anchor="middle">x (μ m)</text>
<text class="ax" transform="translate(-38.6,111.2) rotate(-90)" font-size="12.4" text-anchor="middle">y (μ m)</text>
</g>
<text class="ax" x="388.2" y="345.8" font-size="16.2" font-weight="bold">(d)</text>
<g>
<rect x="91.3" y="658.6" width="169.5" height="107.8" fill="#fff" stroke="#bdbdbd" stroke-width="1"/>
<path d="M91.3,739.5H293" stroke="#d9d9d9" stroke-width="0.8" stroke-dasharray="1 1.2" fill="none"/>
<path d="M91.3,712.5H293" stroke="#d9d9d9" stroke-width="0.8" stroke-dasharray="1 1.2" fill="none"/>
<path d="M91.3,685.5H293" stroke="#d9d9d9" stroke-width="0.8" stroke-dasharray="1 1.2" fill="none"/>
<path d="M91.3,766.4 L91.3,713.8 L92.7,711.8 L97.0,709.1 L102.6,706.4 L108.2,703.7 L113.9,701.7 L115.3,700.0 L122.4,698.2 L123.8,696.9 L130.8,695.3 L132.3,694.2 L139.3,692.8 L147.8,691.2 L156.3,689.9 L157.7,688.0 L167.6,686.9 L176.1,685.7 L183.1,683.5 L193.0,683.0 L204.3,682.0 L212.8,680.7 L221.2,679.4 L229.7,678.3 L236.8,676.7 L245.3,676.8" stroke="#111" stroke-width="2.2" fill="none" stroke-linejoin="round"/>
<path d="M106.5,730L100.3,706.5" stroke="#111" stroke-width="2.1" fill="none"/>
<circle cx="110.4" cy="739.3" r="9.6" fill="#fff" stroke="#111" stroke-width="1.5"/>
<text class="dj" x="110.4" y="745.2" font-size="17.5" text-anchor="middle">a</text>
<path d="M149.3,730L149.3,694.2" stroke="#111" stroke-width="2.1" fill="none"/>
<circle cx="150.7" cy="739.3" r="9.6" fill="#fff" stroke="#111" stroke-width="1.5"/>
<text class="dj" x="150.7" y="745.2" font-size="17.5" text-anchor="middle">b</text>
<path d="M191.1,730L191.1,685.7" stroke="#111" stroke-width="2.1" fill="none"/>
<circle cx="190.3" cy="739.3" r="9.6" fill="#fff" stroke="#111" stroke-width="1.5"/>
<text class="dj" x="190.3" y="745.2" font-size="17.5" text-anchor="middle">c</text>
<path d="M246.1,730L245.4,679.5" stroke="#111" stroke-width="2.1" fill="none"/>
<circle cx="247.2" cy="739.3" r="9.6" fill="#fff" stroke="#111" stroke-width="1.5"/>
<text class="dj" x="247.2" y="745.2" font-size="17.5" text-anchor="middle">d</text>
<text class="ax" x="177.5" y="650.3" font-size="14.1" font-weight="bold" text-anchor="middle">Stress vs. Strain</text>
<text class="ax" x="87.8" y="770.7" font-size="12.2" text-anchor="end">0</text>
<text class="ax" x="87.8" y="743.8" font-size="12.2" text-anchor="end">20</text>
<text class="ax" x="87.8" y="716.8" font-size="12.2" text-anchor="end">40</text>
<text class="ax" x="87.8" y="689.8" font-size="12.2" text-anchor="end">60</text>
<text class="ax" x="87.8" y="662.9" font-size="12.2" text-anchor="end">80</text>
<text class="ax" x="91.3" y="780.3" font-size="12.2" text-anchor="middle">0</text>
<text class="ax" x="119.5" y="780.3" font-size="12.2" text-anchor="middle">0.01</text>
<text class="ax" x="147.8" y="780.3" font-size="12.2" text-anchor="middle">0.02</text>
<text class="ax" x="176.1" y="780.3" font-size="12.2" text-anchor="middle">0.03</text>
<text class="ax" x="204.3" y="780.3" font-size="12.2" text-anchor="middle">0.04</text>
<text class="ax" x="232.6" y="780.3" font-size="12.2" text-anchor="middle">0.05</text>
<text class="ax" x="260.8" y="780.3" font-size="12.2" text-anchor="middle">0.06</text>
<text class="ax" x="177.5" y="797.2" font-size="12.2" text-anchor="middle">Strain</text>
<text class="ax" transform="translate(68.3,712.5) rotate(-90)" font-size="12.2" text-anchor="middle">Stress (MPa)</text>
</g>
<text class="dj" x="378.7" y="636.2" font-size="17.8" text-anchor="middle">Grain</text>
<text class="dj" x="379.3" y="656.6" font-size="17.8" text-anchor="middle">Boundaries</text>
<rect x="335.5" y="665.3" width="89.7" height="6.2" fill="#000"/>
<text class="dj" x="383" y="695" font-size="17.8" text-anchor="middle">&gt;15<tspan font-weight="bold" font-size="16.5" dy="-0.8">°</tspan></text>
<path d="M323.4,752.7 H356.4 Q358.6,761.2 365,761.2 H395 Q401.4,761.2 403.6,752.7 H435.5 V776.7 H403.6 Q401.4,766.9 395,766.9 H365 Q358.6,766.9 356.4,776.7 H323.4 Z" fill="#fff" stroke="#111" stroke-width="2.8" stroke-linejoin="round"/>
<path d="M378.7,764.5 V733 M375.3,738.6 L378.7,731.8 L382.1,738.6 M378.7,764.5 H410 M404.6,761.1 L411.4,764.5 L404.6,767.9" fill="none" stroke="#111" stroke-width="1.6"/>
<text class="dj" x="382.6" y="738.8" font-size="17.5">y</text>
<text class="dj" x="412.3" y="770" font-size="17.5">x</text>
<linearGradient id="jetg" x1="0" x2="1" y1="0" y2="0"><stop offset="0" stop-color="#00008f"/><stop offset="0.11" stop-color="#0000ff"/><stop offset="0.365" stop-color="#00ffff"/><stop offset="0.49" stop-color="#80ff80"/><stop offset="0.615" stop-color="#ffff00"/><stop offset="0.865" stop-color="#ff0000"/><stop offset="1" stop-color="#8c0000"/></linearGradient>
<rect x="468.5" y="698.8" width="220.4" height="15.2" fill="url(#jetg)"/>
<path d="M512.6,698.8v2M512.6,714v-2 M556.7,698.8v2M556.7,714v-2 M600.7,698.8v2M600.7,714v-2 M644.8,698.8v2M644.8,714v-2" stroke="#223" stroke-opacity="0.55" stroke-width="0.9" fill="none"/>
<text class="dj" x="566.6" y="691" font-size="18.2"><tspan>ε</tspan><tspan font-size="12.8" dy="3.9" dx="0.3">xx</tspan></text>
<text class="dj" x="470.6" y="729.8" font-size="13" text-anchor="middle">0</text>
<text class="dj" x="511.9" y="729.8" font-size="13" text-anchor="middle">0.04</text>
<text class="dj" x="556" y="729.8" font-size="13" text-anchor="middle">0.08</text>
<text class="dj" x="600.7" y="729.8" font-size="13" text-anchor="middle">0.12</text>
<text class="dj" x="645.9" y="729.8" font-size="13" text-anchor="middle">0.16</text>
<text class="dj" x="686.4" y="729.8" font-size="13" text-anchor="middle">0.20</text>
</svg></body></html>
